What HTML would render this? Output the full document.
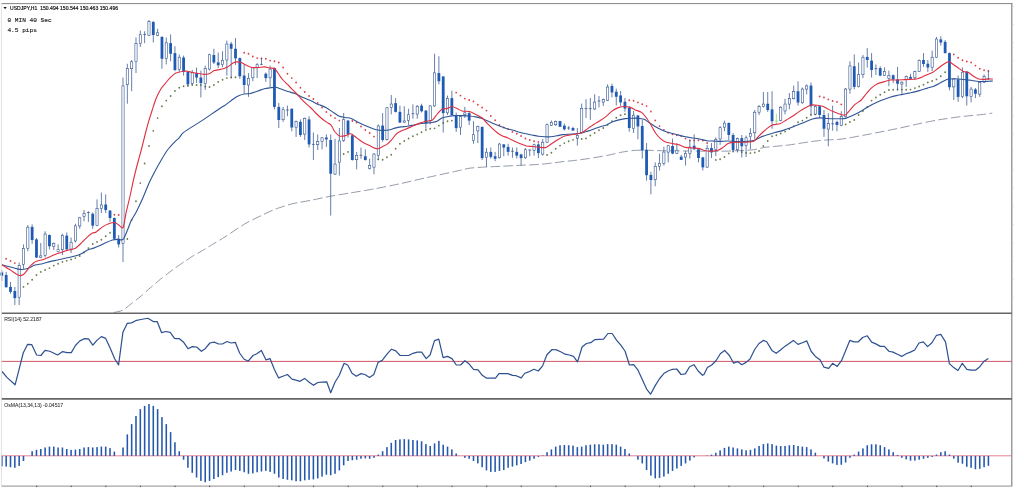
<!DOCTYPE html><html><head><meta charset="utf-8"><title>USDJPY,H1</title>
<style>html,body{margin:0;padding:0;background:#fff;}body{width:1024px;height:497px;overflow:hidden;font-family:"Liberation Sans",sans-serif;}svg{display:block}.t{font-family:"Liberation Sans",sans-serif;font-size:5.1px;fill:#151515;stroke:#151515;stroke-width:.18px}.s{font-family:"Liberation Sans",sans-serif;font-size:5.1px;fill:#2a2a2a;stroke:#2a2a2a;stroke-width:.06px}.m{font-family:"Liberation Mono",monospace;font-size:6.15px;fill:#1a1a1a;stroke:#1a1a1a;stroke-width:.14px}</style></head><body>
<svg width="1024" height="497" viewBox="0 0 1024 497">
<rect width="1024" height="497" fill="#fff"/>
<path d="M113.75 312.50C114.84 312.23 120.31 311.39 122.50 310.30C124.69 309.21 129.06 305.43 131.25 303.75C133.44 302.07 137.66 298.86 140.00 296.90C142.34 294.94 147.66 290.14 150.00 288.10C152.34 286.06 156.56 282.39 158.75 280.60C160.94 278.81 165.47 275.31 167.50 273.75C169.53 272.19 172.81 269.66 175.00 268.10C177.19 266.54 182.81 262.73 185.00 261.25C187.19 259.77 190.62 257.41 192.50 256.25C194.38 255.09 197.50 253.48 200.00 252.00C202.50 250.52 209.38 246.29 212.50 244.40C215.62 242.51 220.94 239.48 225.00 236.90C229.06 234.32 240.31 226.49 245.00 223.75C249.69 221.01 258.75 216.81 262.50 215.00C266.25 213.19 271.25 210.66 275.00 209.25C278.75 207.84 287.81 204.91 292.50 203.75C297.19 202.59 307.78 200.94 312.50 200.00C317.22 199.06 325.56 197.12 330.25 196.25C334.94 195.38 344.41 193.94 350.00 193.00C355.59 192.06 368.75 189.91 375.00 188.75C381.25 187.59 393.75 185.09 400.00 183.75C406.25 182.41 418.00 179.56 425.00 178.00C432.00 176.44 451.12 172.32 456.00 171.25C460.88 170.18 462.22 169.79 464.00 169.40C465.78 169.01 468.06 168.37 470.25 168.10C472.44 167.83 477.59 167.48 481.50 167.25C485.41 167.02 496.50 166.50 501.50 166.25C506.50 166.00 516.81 165.48 521.50 165.25C526.19 165.02 535.25 164.67 539.00 164.40C542.75 164.13 548.38 163.46 551.50 163.10C554.62 162.74 560.88 161.86 564.00 161.50C567.12 161.14 573.38 160.62 576.50 160.25C579.62 159.88 585.06 159.12 589.00 158.50C592.94 157.88 604.06 156.01 608.00 155.25C611.94 154.49 617.38 152.99 620.50 152.40C623.62 151.81 629.94 150.78 633.00 150.50C636.06 150.22 641.62 150.17 645.00 150.20C648.38 150.22 654.38 150.60 660.00 150.70C665.62 150.80 682.50 150.93 690.00 151.00C697.50 151.07 712.34 151.38 720.00 151.25C727.66 151.12 745.78 150.47 751.25 150.00C756.72 149.53 760.62 147.97 763.75 147.50C766.88 147.03 773.12 146.56 776.25 146.25C779.38 145.94 785.62 145.39 788.75 145.00C791.88 144.61 798.12 143.57 801.25 143.10C804.38 142.63 810.62 141.64 813.75 141.25C816.88 140.86 823.12 140.23 826.25 140.00C829.38 139.77 836.03 139.64 838.75 139.40C841.47 139.16 844.09 138.78 848.00 138.10C851.91 137.42 863.50 135.26 870.00 134.00C876.50 132.74 893.75 129.31 900.00 128.00C906.25 126.69 915.31 124.50 920.00 123.50C924.69 122.50 934.25 120.59 937.50 120.00C940.75 119.41 943.38 119.14 946.00 118.75C948.62 118.36 955.38 117.29 958.50 116.90C961.62 116.51 967.88 115.91 971.00 115.60C974.12 115.29 980.84 114.71 983.50 114.40C986.16 114.09 991.16 113.26 992.25 113.10" fill="none" stroke="#878e9e" stroke-width="0.9" stroke-dasharray="9.4 3.5"/>
<g fill="#667a46">
<circle cx="19.16" cy="282.75" r="0.88"/>
<circle cx="23.48" cy="286.90" r="0.88"/>
<circle cx="27.81" cy="283.75" r="0.88"/>
<circle cx="32.14" cy="279.75" r="0.88"/>
<circle cx="36.47" cy="275.00" r="0.88"/>
<circle cx="40.79" cy="271.90" r="0.88"/>
<circle cx="45.12" cy="270.00" r="0.88"/>
<circle cx="49.45" cy="268.10" r="0.88"/>
<circle cx="53.77" cy="265.60" r="0.88"/>
<circle cx="58.10" cy="263.75" r="0.88"/>
<circle cx="62.43" cy="261.90" r="0.88"/>
<circle cx="66.75" cy="260.80" r="0.88"/>
<circle cx="71.08" cy="259.50" r="0.88"/>
<circle cx="75.41" cy="258.10" r="0.88"/>
<circle cx="79.74" cy="256.00" r="0.88"/>
<circle cx="84.06" cy="252.50" r="0.88"/>
<circle cx="88.39" cy="248.10" r="0.88"/>
<circle cx="92.72" cy="244.00" r="0.88"/>
<circle cx="97.04" cy="241.90" r="0.88"/>
<circle cx="101.37" cy="239.75" r="0.88"/>
<circle cx="105.70" cy="236.25" r="0.88"/>
<circle cx="110.02" cy="232.75" r="0.88"/>
<circle cx="123.01" cy="235.00" r="0.88"/>
<circle cx="127.33" cy="239.00" r="0.88"/>
<circle cx="131.66" cy="220.00" r="0.88"/>
<circle cx="135.99" cy="201.25" r="0.88"/>
<circle cx="140.31" cy="183.10" r="0.88"/>
<circle cx="144.64" cy="163.50" r="0.88"/>
<circle cx="148.97" cy="146.00" r="0.88"/>
<circle cx="153.29" cy="130.80" r="0.88"/>
<circle cx="157.62" cy="118.10" r="0.88"/>
<circle cx="161.95" cy="106.25" r="0.88"/>
<circle cx="166.28" cy="100.60" r="0.88"/>
<circle cx="170.60" cy="96.00" r="0.88"/>
<circle cx="174.93" cy="91.00" r="0.88"/>
<circle cx="179.26" cy="87.75" r="0.88"/>
<circle cx="183.58" cy="86.25" r="0.88"/>
<circle cx="187.91" cy="85.60" r="0.88"/>
<circle cx="192.24" cy="85.00" r="0.88"/>
<circle cx="196.56" cy="85.00" r="0.88"/>
<circle cx="200.89" cy="85.00" r="0.88"/>
<circle cx="205.22" cy="86.50" r="0.88"/>
<circle cx="209.55" cy="87.00" r="0.88"/>
<circle cx="213.87" cy="85.00" r="0.88"/>
<circle cx="218.20" cy="81.90" r="0.88"/>
<circle cx="222.53" cy="79.75" r="0.88"/>
<circle cx="226.85" cy="78.10" r="0.88"/>
<circle cx="231.18" cy="77.50" r="0.88"/>
<circle cx="235.51" cy="77.25" r="0.88"/>
<circle cx="343.68" cy="154.00" r="0.88"/>
<circle cx="348.01" cy="151.90" r="0.88"/>
<circle cx="378.30" cy="159.40" r="0.88"/>
<circle cx="382.63" cy="159.75" r="0.88"/>
<circle cx="386.95" cy="157.25" r="0.88"/>
<circle cx="391.28" cy="154.75" r="0.88"/>
<circle cx="395.61" cy="148.75" r="0.88"/>
<circle cx="399.93" cy="143.75" r="0.88"/>
<circle cx="404.26" cy="141.00" r="0.88"/>
<circle cx="408.59" cy="138.50" r="0.88"/>
<circle cx="412.92" cy="136.25" r="0.88"/>
<circle cx="417.24" cy="134.40" r="0.88"/>
<circle cx="421.57" cy="132.25" r="0.88"/>
<circle cx="425.90" cy="130.00" r="0.88"/>
<circle cx="430.22" cy="128.75" r="0.88"/>
<circle cx="434.55" cy="128.30" r="0.88"/>
<circle cx="438.88" cy="125.60" r="0.88"/>
<circle cx="443.20" cy="123.00" r="0.88"/>
<circle cx="447.53" cy="121.25" r="0.88"/>
<circle cx="451.86" cy="120.60" r="0.88"/>
<circle cx="547.05" cy="155.00" r="0.88"/>
<circle cx="551.38" cy="152.75" r="0.88"/>
<circle cx="555.71" cy="148.75" r="0.88"/>
<circle cx="560.03" cy="145.60" r="0.88"/>
<circle cx="564.36" cy="143.10" r="0.88"/>
<circle cx="568.69" cy="141.25" r="0.88"/>
<circle cx="573.01" cy="139.80" r="0.88"/>
<circle cx="577.34" cy="138.00" r="0.88"/>
<circle cx="581.67" cy="139.00" r="0.88"/>
<circle cx="586.00" cy="138.40" r="0.88"/>
<circle cx="590.32" cy="135.50" r="0.88"/>
<circle cx="594.65" cy="133.00" r="0.88"/>
<circle cx="598.98" cy="130.25" r="0.88"/>
<circle cx="603.30" cy="128.00" r="0.88"/>
<circle cx="607.63" cy="124.90" r="0.88"/>
<circle cx="611.96" cy="121.10" r="0.88"/>
<circle cx="616.28" cy="117.75" r="0.88"/>
<circle cx="620.61" cy="115.25" r="0.88"/>
<circle cx="624.94" cy="114.25" r="0.88"/>
<circle cx="715.81" cy="159.90" r="0.88"/>
<circle cx="720.13" cy="159.25" r="0.88"/>
<circle cx="724.46" cy="157.00" r="0.88"/>
<circle cx="728.79" cy="153.40" r="0.88"/>
<circle cx="733.11" cy="151.10" r="0.88"/>
<circle cx="741.77" cy="152.00" r="0.88"/>
<circle cx="746.09" cy="152.80" r="0.88"/>
<circle cx="750.42" cy="153.10" r="0.88"/>
<circle cx="754.75" cy="152.50" r="0.88"/>
<circle cx="759.08" cy="151.00" r="0.88"/>
<circle cx="763.40" cy="146.00" r="0.88"/>
<circle cx="767.73" cy="141.00" r="0.88"/>
<circle cx="772.06" cy="136.25" r="0.88"/>
<circle cx="776.38" cy="135.25" r="0.88"/>
<circle cx="780.71" cy="133.50" r="0.88"/>
<circle cx="785.04" cy="131.50" r="0.88"/>
<circle cx="789.36" cy="129.00" r="0.88"/>
<circle cx="793.69" cy="126.25" r="0.88"/>
<circle cx="798.02" cy="122.25" r="0.88"/>
<circle cx="802.35" cy="120.60" r="0.88"/>
<circle cx="806.67" cy="117.75" r="0.88"/>
<circle cx="811.00" cy="115.00" r="0.88"/>
<circle cx="815.33" cy="114.40" r="0.88"/>
<circle cx="845.62" cy="124.40" r="0.88"/>
<circle cx="849.94" cy="122.00" r="0.88"/>
<circle cx="854.27" cy="120.00" r="0.88"/>
<circle cx="858.60" cy="115.00" r="0.88"/>
<circle cx="862.92" cy="111.00" r="0.88"/>
<circle cx="867.25" cy="106.90" r="0.88"/>
<circle cx="871.58" cy="100.60" r="0.88"/>
<circle cx="875.90" cy="97.50" r="0.88"/>
<circle cx="880.23" cy="94.75" r="0.88"/>
<circle cx="884.56" cy="92.25" r="0.88"/>
<circle cx="888.88" cy="90.00" r="0.88"/>
<circle cx="893.21" cy="89.75" r="0.88"/>
<circle cx="897.54" cy="89.40" r="0.88"/>
<circle cx="901.87" cy="89.60" r="0.88"/>
<circle cx="906.19" cy="89.75" r="0.88"/>
<circle cx="910.52" cy="89.60" r="0.88"/>
<circle cx="914.85" cy="88.10" r="0.88"/>
<circle cx="919.17" cy="86.50" r="0.88"/>
<circle cx="923.50" cy="84.75" r="0.88"/>
<circle cx="927.83" cy="82.50" r="0.88"/>
<circle cx="932.15" cy="81.00" r="0.88"/>
<circle cx="936.48" cy="79.40" r="0.88"/>
<circle cx="940.81" cy="76.25" r="0.88"/>
<circle cx="945.14" cy="72.25" r="0.88"/>
</g><g fill="#dc3c44">
<circle cx="6.18" cy="258.75" r="0.88"/>
<circle cx="10.50" cy="261.00" r="0.88"/>
<circle cx="14.83" cy="263.10" r="0.88"/>
<circle cx="114.35" cy="214.75" r="0.88"/>
<circle cx="118.68" cy="215.00" r="0.88"/>
<circle cx="244.16" cy="52.75" r="0.88"/>
<circle cx="248.49" cy="53.75" r="0.88"/>
<circle cx="252.82" cy="56.50" r="0.88"/>
<circle cx="257.14" cy="58.10" r="0.88"/>
<circle cx="261.47" cy="58.50" r="0.88"/>
<circle cx="265.80" cy="58.75" r="0.88"/>
<circle cx="270.12" cy="60.60" r="0.88"/>
<circle cx="274.45" cy="61.25" r="0.88"/>
<circle cx="278.78" cy="62.50" r="0.88"/>
<circle cx="283.11" cy="67.50" r="0.88"/>
<circle cx="287.43" cy="73.75" r="0.88"/>
<circle cx="291.76" cy="78.10" r="0.88"/>
<circle cx="296.09" cy="82.50" r="0.88"/>
<circle cx="300.41" cy="87.75" r="0.88"/>
<circle cx="304.74" cy="92.00" r="0.88"/>
<circle cx="309.07" cy="96.00" r="0.88"/>
<circle cx="313.39" cy="99.00" r="0.88"/>
<circle cx="317.72" cy="103.00" r="0.88"/>
<circle cx="322.05" cy="107.50" r="0.88"/>
<circle cx="326.38" cy="112.00" r="0.88"/>
<circle cx="330.70" cy="115.50" r="0.88"/>
<circle cx="335.03" cy="118.10" r="0.88"/>
<circle cx="339.36" cy="120.60" r="0.88"/>
<circle cx="352.34" cy="121.00" r="0.88"/>
<circle cx="356.66" cy="122.50" r="0.88"/>
<circle cx="360.99" cy="126.50" r="0.88"/>
<circle cx="365.32" cy="130.00" r="0.88"/>
<circle cx="369.65" cy="133.00" r="0.88"/>
<circle cx="373.97" cy="136.60" r="0.88"/>
<circle cx="456.19" cy="92.60" r="0.88"/>
<circle cx="460.51" cy="95.60" r="0.88"/>
<circle cx="464.84" cy="98.60" r="0.88"/>
<circle cx="469.17" cy="100.00" r="0.88"/>
<circle cx="473.49" cy="101.40" r="0.88"/>
<circle cx="477.82" cy="104.75" r="0.88"/>
<circle cx="482.15" cy="107.50" r="0.88"/>
<circle cx="486.47" cy="110.60" r="0.88"/>
<circle cx="490.80" cy="116.00" r="0.88"/>
<circle cx="495.13" cy="120.25" r="0.88"/>
<circle cx="499.46" cy="125.00" r="0.88"/>
<circle cx="503.78" cy="127.50" r="0.88"/>
<circle cx="508.11" cy="129.20" r="0.88"/>
<circle cx="512.44" cy="131.90" r="0.88"/>
<circle cx="516.76" cy="133.75" r="0.88"/>
<circle cx="521.09" cy="136.00" r="0.88"/>
<circle cx="525.42" cy="138.50" r="0.88"/>
<circle cx="529.74" cy="140.00" r="0.88"/>
<circle cx="534.07" cy="141.25" r="0.88"/>
<circle cx="538.40" cy="141.90" r="0.88"/>
<circle cx="629.26" cy="100.25" r="0.88"/>
<circle cx="633.59" cy="100.75" r="0.88"/>
<circle cx="637.92" cy="102.40" r="0.88"/>
<circle cx="642.25" cy="104.25" r="0.88"/>
<circle cx="646.57" cy="106.10" r="0.88"/>
<circle cx="650.90" cy="111.50" r="0.88"/>
<circle cx="655.23" cy="120.40" r="0.88"/>
<circle cx="659.55" cy="126.10" r="0.88"/>
<circle cx="663.88" cy="129.90" r="0.88"/>
<circle cx="668.21" cy="132.75" r="0.88"/>
<circle cx="672.53" cy="134.25" r="0.88"/>
<circle cx="676.86" cy="135.25" r="0.88"/>
<circle cx="681.19" cy="136.10" r="0.88"/>
<circle cx="685.52" cy="138.60" r="0.88"/>
<circle cx="689.84" cy="140.50" r="0.88"/>
<circle cx="694.17" cy="140.50" r="0.88"/>
<circle cx="698.50" cy="140.25" r="0.88"/>
<circle cx="702.82" cy="140.50" r="0.88"/>
<circle cx="707.15" cy="143.00" r="0.88"/>
<circle cx="819.65" cy="96.50" r="0.88"/>
<circle cx="823.98" cy="97.50" r="0.88"/>
<circle cx="828.31" cy="99.40" r="0.88"/>
<circle cx="832.63" cy="101.00" r="0.88"/>
<circle cx="836.96" cy="101.90" r="0.88"/>
<circle cx="841.29" cy="104.40" r="0.88"/>
<circle cx="953.79" cy="54.40" r="0.88"/>
<circle cx="958.12" cy="57.75" r="0.88"/>
<circle cx="962.44" cy="60.25" r="0.88"/>
<circle cx="966.77" cy="61.50" r="0.88"/>
<circle cx="971.10" cy="62.50" r="0.88"/>
<circle cx="975.43" cy="65.60" r="0.88"/>
<circle cx="979.75" cy="68.75" r="0.88"/>
<circle cx="984.08" cy="70.25" r="0.88"/>
<circle cx="988.41" cy="71.00" r="0.88"/>
</g>
<g stroke="#34548f" stroke-width="0.75">
<path d="M1.85 270.60V281.00" fill="none"/>
<rect x="0.45" y="272.50" width="2.8" height="3.10" fill="#1f5bb5" stroke="none"/>
<path d="M6.18 271.90V287.50" fill="none"/>
<rect x="4.78" y="275.00" width="2.8" height="12.25" fill="#1f5bb5" stroke="none"/>
<path d="M10.50 281.90V293.75" fill="none"/>
<rect x="9.10" y="286.90" width="2.8" height="5.00" fill="#1f5bb5" stroke="none"/>
<path d="M14.83 286.90V305.00" fill="none"/>
<rect x="13.43" y="291.00" width="2.8" height="7.10" fill="#1f5bb5" stroke="none"/>
<path d="M19.16 262.50V305.00" fill="none"/>
<rect x="18.06" y="265.30" width="2.20" height="31.90" fill="#fff" stroke-width="0.6"/>
<path d="M23.48 244.40V268.75" fill="none"/>
<rect x="22.39" y="248.40" width="2.20" height="16.05" fill="#fff" stroke-width="0.6"/>
<path d="M27.81 225.00V251.25" fill="none"/>
<rect x="26.71" y="227.20" width="2.20" height="21.25" fill="#fff" stroke-width="0.6"/>
<path d="M32.14 224.40V243.75" fill="none"/>
<rect x="30.74" y="226.90" width="2.8" height="13.10" fill="#1f5bb5" stroke="none"/>
<path d="M36.47 238.00V258.00" fill="none"/>
<rect x="35.07" y="239.40" width="2.8" height="18.10" fill="#1f5bb5" stroke="none"/>
<path d="M40.79 243.00V258.10" fill="none"/>
<rect x="39.69" y="255.90" width="2.20" height="1.55" fill="#fff" stroke-width="0.6"/>
<path d="M45.12 231.25V257.50" fill="none"/>
<rect x="44.02" y="234.05" width="2.20" height="21.25" fill="#fff" stroke-width="0.6"/>
<path d="M49.45 234.40V249.40" fill="none"/>
<rect x="48.05" y="235.00" width="2.8" height="11.25" fill="#1f5bb5" stroke="none"/>
<path d="M53.77 242.50V250.00" fill="none"/>
<rect x="52.67" y="243.30" width="2.20" height="3.30" fill="#fff" stroke-width="0.6"/>
<path d="M58.10 244.40V252.50" fill="none"/>
<rect x="57.00" y="249.70" width="2.20" height="1.90" fill="#fff" stroke-width="0.6"/>
<path d="M62.43 233.75V255.00" fill="none"/>
<rect x="61.33" y="235.30" width="2.20" height="14.40" fill="#fff" stroke-width="0.6"/>
<path d="M66.75 232.50V250.00" fill="none"/>
<rect x="65.35" y="235.60" width="2.8" height="13.80" fill="#1f5bb5" stroke="none"/>
<path d="M71.08 237.50V253.00" fill="none"/>
<rect x="69.98" y="242.20" width="2.20" height="6.90" fill="#fff" stroke-width="0.6"/>
<path d="M75.41 223.75V242.50" fill="none"/>
<rect x="74.31" y="225.90" width="2.20" height="15.05" fill="#fff" stroke-width="0.6"/>
<path d="M79.74 216.90V228.75" fill="none"/>
<rect x="78.64" y="217.80" width="2.20" height="8.15" fill="#fff" stroke-width="0.6"/>
<path d="M84.06 210.00V221.25" fill="none"/>
<rect x="82.96" y="213.30" width="2.20" height="3.30" fill="#fff" stroke-width="0.6"/>
<path d="M88.39 211.25V221.90" fill="none"/>
<path d="M86.99 212.50H89.79" fill="none"/>
<path d="M92.72 212.50V228.75" fill="none"/>
<rect x="91.32" y="213.75" width="2.8" height="11.85" fill="#1f5bb5" stroke="none"/>
<path d="M97.04 199.40V226.25" fill="none"/>
<rect x="95.94" y="208.30" width="2.20" height="17.00" fill="#fff" stroke-width="0.6"/>
<path d="M101.37 192.50V213.00" fill="none"/>
<rect x="100.27" y="204.90" width="2.20" height="3.55" fill="#fff" stroke-width="0.6"/>
<path d="M105.70 194.40V213.00" fill="none"/>
<rect x="104.30" y="204.50" width="2.8" height="5.50" fill="#1f5bb5" stroke="none"/>
<path d="M110.02 210.00V221.90" fill="none"/>
<rect x="108.62" y="210.60" width="2.8" height="7.40" fill="#1f5bb5" stroke="none"/>
<path d="M114.35 217.50V239.00" fill="none"/>
<rect x="112.95" y="218.00" width="2.8" height="20.75" fill="#1f5bb5" stroke="none"/>
<path d="M118.68 235.00V247.50" fill="none"/>
<rect x="117.28" y="238.75" width="2.8" height="5.65" fill="#1f5bb5" stroke="none"/>
<path d="M123.01 77.50V262.00" fill="none"/>
<rect x="121.91" y="85.90" width="2.20" height="157.55" fill="#fff" stroke-width="0.6"/>
<path d="M127.33 63.75V103.75" fill="none"/>
<rect x="126.23" y="68.40" width="2.20" height="16.30" fill="#fff" stroke-width="0.6"/>
<path d="M131.66 60.00V91.25" fill="none"/>
<rect x="130.56" y="61.80" width="2.20" height="6.90" fill="#fff" stroke-width="0.6"/>
<path d="M135.99 37.50V73.00" fill="none"/>
<rect x="134.89" y="43.40" width="2.20" height="18.20" fill="#fff" stroke-width="0.6"/>
<path d="M140.31 30.60V46.90" fill="none"/>
<rect x="139.21" y="34.70" width="2.20" height="8.75" fill="#fff" stroke-width="0.6"/>
<path d="M144.64 31.25V43.10" fill="none"/>
<path d="M143.24 34.40H146.04" fill="none"/>
<path d="M148.97 20.00V36.00" fill="none"/>
<rect x="147.87" y="21.55" width="2.20" height="13.75" fill="#fff" stroke-width="0.6"/>
<path d="M153.29 21.25V42.50" fill="none"/>
<rect x="151.89" y="21.90" width="2.8" height="13.10" fill="#1f5bb5" stroke="none"/>
<path d="M157.62 28.75V36.25" fill="none"/>
<rect x="156.52" y="32.80" width="2.20" height="2.50" fill="#fff" stroke-width="0.6"/>
<path d="M161.95 36.25V68.75" fill="none"/>
<rect x="160.55" y="36.90" width="2.8" height="21.85" fill="#1f5bb5" stroke="none"/>
<path d="M166.28 37.50V64.40" fill="none"/>
<rect x="165.18" y="42.80" width="2.20" height="15.65" fill="#fff" stroke-width="0.6"/>
<path d="M170.60 34.40V61.25" fill="none"/>
<rect x="169.20" y="43.10" width="2.8" height="10.65" fill="#1f5bb5" stroke="none"/>
<path d="M174.93 46.25V71.25" fill="none"/>
<rect x="173.53" y="53.10" width="2.8" height="16.90" fill="#1f5bb5" stroke="none"/>
<path d="M179.26 54.40V72.50" fill="none"/>
<rect x="178.16" y="57.20" width="2.20" height="12.20" fill="#fff" stroke-width="0.6"/>
<path d="M183.58 55.60V75.60" fill="none"/>
<rect x="182.18" y="57.50" width="2.8" height="14.00" fill="#1f5bb5" stroke="none"/>
<path d="M187.91 71.25V86.90" fill="none"/>
<rect x="186.51" y="71.90" width="2.8" height="12.50" fill="#1f5bb5" stroke="none"/>
<path d="M192.24 70.00V85.00" fill="none"/>
<rect x="191.14" y="72.80" width="2.20" height="10.65" fill="#fff" stroke-width="0.6"/>
<path d="M196.56 67.50V83.00" fill="none"/>
<rect x="195.16" y="73.10" width="2.8" height="4.40" fill="#1f5bb5" stroke="none"/>
<path d="M200.89 70.60V97.50" fill="none"/>
<rect x="199.49" y="77.50" width="2.8" height="5.60" fill="#1f5bb5" stroke="none"/>
<path d="M205.22 65.60V90.00" fill="none"/>
<rect x="204.12" y="68.40" width="2.20" height="15.05" fill="#fff" stroke-width="0.6"/>
<path d="M209.55 53.75V70.60" fill="none"/>
<rect x="208.45" y="54.70" width="2.20" height="14.40" fill="#fff" stroke-width="0.6"/>
<path d="M213.87 48.75V64.00" fill="none"/>
<rect x="212.47" y="55.00" width="2.8" height="7.50" fill="#1f5bb5" stroke="none"/>
<path d="M218.20 52.50V68.00" fill="none"/>
<rect x="216.80" y="62.40" width="2.8" height="2.90" fill="#1f5bb5" stroke="none"/>
<path d="M222.53 51.25V67.20" fill="none"/>
<rect x="221.43" y="60.30" width="2.20" height="4.30" fill="#fff" stroke-width="0.6"/>
<path d="M226.85 40.60V75.60" fill="none"/>
<rect x="225.75" y="44.05" width="2.20" height="15.95" fill="#fff" stroke-width="0.6"/>
<path d="M231.18 41.90V78.10" fill="none"/>
<rect x="229.78" y="43.75" width="2.8" height="5.00" fill="#1f5bb5" stroke="none"/>
<path d="M235.51 38.10V65.00" fill="none"/>
<rect x="234.11" y="48.75" width="2.8" height="9.65" fill="#1f5bb5" stroke="none"/>
<path d="M239.83 57.50V78.75" fill="none"/>
<rect x="238.43" y="58.10" width="2.8" height="18.15" fill="#1f5bb5" stroke="none"/>
<path d="M244.16 64.40V93.75" fill="none"/>
<rect x="242.76" y="75.60" width="2.8" height="9.40" fill="#1f5bb5" stroke="none"/>
<path d="M248.49 73.10V96.90" fill="none"/>
<rect x="247.39" y="78.40" width="2.20" height="6.60" fill="#fff" stroke-width="0.6"/>
<path d="M252.82 66.90V81.25" fill="none"/>
<rect x="251.72" y="67.80" width="2.20" height="10.00" fill="#fff" stroke-width="0.6"/>
<path d="M257.14 63.10V78.10" fill="none"/>
<rect x="256.04" y="64.70" width="2.20" height="2.50" fill="#fff" stroke-width="0.6"/>
<path d="M261.47 57.75V64.75" fill="none"/>
<path d="M260.07 64.40H262.87" fill="none"/>
<path d="M265.80 72.50V81.90" fill="none"/>
<rect x="264.40" y="73.75" width="2.8" height="4.35" fill="#1f5bb5" stroke="none"/>
<path d="M270.12 65.60V87.50" fill="none"/>
<rect x="269.02" y="69.05" width="2.20" height="8.75" fill="#fff" stroke-width="0.6"/>
<path d="M274.45 67.50V109.40" fill="none"/>
<rect x="273.05" y="68.10" width="2.8" height="38.80" fill="#1f5bb5" stroke="none"/>
<path d="M278.78 103.00V128.00" fill="none"/>
<rect x="277.38" y="106.90" width="2.8" height="13.10" fill="#1f5bb5" stroke="none"/>
<path d="M283.11 106.90V121.90" fill="none"/>
<rect x="282.01" y="109.70" width="2.20" height="10.00" fill="#fff" stroke-width="0.6"/>
<path d="M287.43 105.60V116.25" fill="none"/>
<path d="M286.03 110.00H288.83" fill="none"/>
<path d="M291.76 108.50V131.25" fill="none"/>
<rect x="290.36" y="108.75" width="2.8" height="18.75" fill="#1f5bb5" stroke="none"/>
<path d="M296.09 120.60V136.90" fill="none"/>
<rect x="294.99" y="121.55" width="2.20" height="5.65" fill="#fff" stroke-width="0.6"/>
<path d="M300.41 119.40V136.90" fill="none"/>
<rect x="299.01" y="121.90" width="2.8" height="13.10" fill="#1f5bb5" stroke="none"/>
<path d="M304.74 117.50V140.00" fill="none"/>
<rect x="303.64" y="118.30" width="2.20" height="15.80" fill="#fff" stroke-width="0.6"/>
<path d="M309.07 116.25V147.50" fill="none"/>
<rect x="307.67" y="119.40" width="2.8" height="25.00" fill="#1f5bb5" stroke="none"/>
<path d="M313.39 132.50V160.00" fill="none"/>
<path d="M311.99 144.40H314.79" fill="none"/>
<path d="M317.72 134.40V150.00" fill="none"/>
<rect x="316.62" y="141.55" width="2.20" height="3.15" fill="#fff" stroke-width="0.6"/>
<path d="M322.05 137.25V149.40" fill="none"/>
<rect x="320.95" y="137.80" width="2.20" height="3.80" fill="#fff" stroke-width="0.6"/>
<path d="M326.38 134.40V146.90" fill="none"/>
<rect x="324.98" y="137.50" width="2.8" height="1.90" fill="#1f5bb5" stroke="none"/>
<path d="M330.70 134.40V215.60" fill="none"/>
<rect x="329.30" y="140.00" width="2.8" height="33.75" fill="#1f5bb5" stroke="none"/>
<path d="M335.03 138.75V175.00" fill="none"/>
<rect x="333.93" y="164.05" width="2.20" height="10.05" fill="#fff" stroke-width="0.6"/>
<path d="M339.36 128.00V175.60" fill="none"/>
<rect x="338.26" y="140.90" width="2.20" height="21.30" fill="#fff" stroke-width="0.6"/>
<path d="M343.68 113.00V141.90" fill="none"/>
<rect x="342.58" y="119.70" width="2.20" height="20.60" fill="#fff" stroke-width="0.6"/>
<path d="M348.01 120.00V137.50" fill="none"/>
<rect x="346.61" y="120.60" width="2.8" height="13.40" fill="#1f5bb5" stroke="none"/>
<path d="M352.34 133.75V160.60" fill="none"/>
<rect x="350.94" y="135.30" width="2.8" height="24.70" fill="#1f5bb5" stroke="none"/>
<path d="M356.66 151.90V169.40" fill="none"/>
<rect x="355.56" y="155.30" width="2.20" height="4.40" fill="#fff" stroke-width="0.6"/>
<path d="M360.99 147.50V158.75" fill="none"/>
<path d="M359.59 155.25H362.39" fill="none"/>
<path d="M365.32 149.40V160.60" fill="none"/>
<rect x="363.92" y="156.25" width="2.8" height="3.75" fill="#1f5bb5" stroke="none"/>
<path d="M369.65 158.75V169.40" fill="none"/>
<rect x="368.55" y="165.30" width="2.20" height="3.15" fill="#fff" stroke-width="0.6"/>
<path d="M373.97 153.10V174.40" fill="none"/>
<rect x="372.87" y="154.05" width="2.20" height="13.15" fill="#fff" stroke-width="0.6"/>
<path d="M378.30 124.40V160.00" fill="none"/>
<rect x="377.20" y="125.90" width="2.20" height="29.40" fill="#fff" stroke-width="0.6"/>
<path d="M382.63 113.10V141.90" fill="none"/>
<rect x="381.23" y="125.60" width="2.8" height="14.40" fill="#1f5bb5" stroke="none"/>
<path d="M386.95 106.90V140.60" fill="none"/>
<rect x="385.85" y="107.80" width="2.20" height="31.90" fill="#fff" stroke-width="0.6"/>
<path d="M391.28 95.00V114.40" fill="none"/>
<rect x="390.18" y="104.05" width="2.20" height="3.40" fill="#fff" stroke-width="0.6"/>
<path d="M395.61 98.10V112.50" fill="none"/>
<rect x="394.21" y="103.10" width="2.8" height="8.80" fill="#1f5bb5" stroke="none"/>
<path d="M399.93 105.60V123.10" fill="none"/>
<rect x="398.53" y="111.90" width="2.8" height="10.60" fill="#1f5bb5" stroke="none"/>
<path d="M404.26 106.25V122.80" fill="none"/>
<rect x="403.16" y="120.90" width="2.20" height="1.30" fill="#fff" stroke-width="0.6"/>
<path d="M408.59 108.75V125.00" fill="none"/>
<rect x="407.49" y="114.70" width="2.20" height="5.60" fill="#fff" stroke-width="0.6"/>
<path d="M412.92 104.40V118.75" fill="none"/>
<path d="M411.52 113.75H414.31" fill="none"/>
<path d="M417.24 105.00V118.75" fill="none"/>
<rect x="416.14" y="106.55" width="2.20" height="7.55" fill="#fff" stroke-width="0.6"/>
<path d="M421.57 103.75V112.50" fill="none"/>
<rect x="420.17" y="105.60" width="2.8" height="5.65" fill="#1f5bb5" stroke="none"/>
<path d="M425.90 110.00V128.75" fill="none"/>
<rect x="424.50" y="110.60" width="2.8" height="12.50" fill="#1f5bb5" stroke="none"/>
<path d="M430.22 105.40V124.40" fill="none"/>
<rect x="429.12" y="105.90" width="2.20" height="15.05" fill="#fff" stroke-width="0.6"/>
<path d="M434.55 53.75V106.90" fill="none"/>
<rect x="433.45" y="72.80" width="2.20" height="33.15" fill="#fff" stroke-width="0.6"/>
<path d="M438.88 56.25V84.40" fill="none"/>
<rect x="437.48" y="73.10" width="2.8" height="8.15" fill="#1f5bb5" stroke="none"/>
<path d="M443.20 76.00V132.50" fill="none"/>
<rect x="441.80" y="76.50" width="2.8" height="36.60" fill="#1f5bb5" stroke="none"/>
<path d="M447.53 95.60V115.00" fill="none"/>
<rect x="446.43" y="98.40" width="2.20" height="14.40" fill="#fff" stroke-width="0.6"/>
<path d="M451.86 90.60V115.60" fill="none"/>
<rect x="450.46" y="98.10" width="2.8" height="16.90" fill="#1f5bb5" stroke="none"/>
<path d="M456.19 112.50V131.90" fill="none"/>
<rect x="454.79" y="115.60" width="2.8" height="12.50" fill="#1f5bb5" stroke="none"/>
<path d="M460.51 115.60V135.00" fill="none"/>
<rect x="459.41" y="116.55" width="2.20" height="10.65" fill="#fff" stroke-width="0.6"/>
<path d="M464.84 106.90V118.00" fill="none"/>
<rect x="463.74" y="112.80" width="2.20" height="1.90" fill="#fff" stroke-width="0.6"/>
<path d="M469.17 111.90V125.00" fill="none"/>
<rect x="467.77" y="113.10" width="2.8" height="7.50" fill="#1f5bb5" stroke="none"/>
<path d="M473.49 121.25V143.75" fill="none"/>
<rect x="472.39" y="134.70" width="2.20" height="5.60" fill="#fff" stroke-width="0.6"/>
<path d="M477.82 125.60V143.00" fill="none"/>
<rect x="476.72" y="126.55" width="2.20" height="4.40" fill="#fff" stroke-width="0.6"/>
<path d="M482.15 126.50V160.00" fill="none"/>
<rect x="480.75" y="126.90" width="2.8" height="31.20" fill="#1f5bb5" stroke="none"/>
<path d="M486.47 148.00V166.90" fill="none"/>
<rect x="485.37" y="152.20" width="2.20" height="5.00" fill="#fff" stroke-width="0.6"/>
<path d="M490.80 147.50V158.75" fill="none"/>
<rect x="489.40" y="151.90" width="2.8" height="5.00" fill="#1f5bb5" stroke="none"/>
<path d="M495.13 151.90V161.25" fill="none"/>
<rect x="493.73" y="156.25" width="2.8" height="2.50" fill="#1f5bb5" stroke="none"/>
<path d="M499.46 143.00V158.50" fill="none"/>
<rect x="498.36" y="144.05" width="2.20" height="13.75" fill="#fff" stroke-width="0.6"/>
<path d="M503.78 144.00V156.25" fill="none"/>
<rect x="502.38" y="144.40" width="2.8" height="3.10" fill="#1f5bb5" stroke="none"/>
<path d="M508.11 143.75V155.60" fill="none"/>
<rect x="506.71" y="146.90" width="2.8" height="5.00" fill="#1f5bb5" stroke="none"/>
<path d="M512.44 147.50V157.75" fill="none"/>
<path d="M511.04 151.25H513.84" fill="none"/>
<path d="M516.76 147.50V158.50" fill="none"/>
<rect x="515.36" y="151.90" width="2.8" height="3.70" fill="#1f5bb5" stroke="none"/>
<path d="M521.09 153.75V165.60" fill="none"/>
<rect x="519.69" y="154.40" width="2.8" height="3.70" fill="#1f5bb5" stroke="none"/>
<path d="M525.42 148.10V158.75" fill="none"/>
<rect x="524.32" y="149.70" width="2.20" height="8.10" fill="#fff" stroke-width="0.6"/>
<path d="M529.74 149.40V156.25" fill="none"/>
<path d="M528.34 150.00H531.14" fill="none"/>
<path d="M534.07 143.75V155.60" fill="none"/>
<rect x="532.97" y="144.70" width="2.20" height="5.60" fill="#fff" stroke-width="0.6"/>
<path d="M538.40 143.10V158.10" fill="none"/>
<rect x="537.00" y="144.40" width="2.8" height="8.70" fill="#1f5bb5" stroke="none"/>
<path d="M542.73 139.00V155.60" fill="none"/>
<rect x="541.62" y="142.20" width="2.20" height="11.90" fill="#fff" stroke-width="0.6"/>
<path d="M547.05 123.60V143.10" fill="none"/>
<rect x="545.95" y="124.70" width="2.20" height="17.50" fill="#fff" stroke-width="0.6"/>
<path d="M551.38 120.50V126.00" fill="none"/>
<rect x="550.28" y="122.30" width="2.20" height="3.00" fill="#fff" stroke-width="0.6"/>
<path d="M555.71 120.50V126.00" fill="none"/>
<rect x="554.61" y="121.30" width="2.20" height="3.40" fill="#fff" stroke-width="0.6"/>
<path d="M560.03 120.80V127.00" fill="none"/>
<rect x="558.63" y="121.10" width="2.8" height="5.70" fill="#1f5bb5" stroke="none"/>
<path d="M564.36 123.60V130.50" fill="none"/>
<rect x="562.96" y="125.60" width="2.8" height="3.70" fill="#1f5bb5" stroke="none"/>
<path d="M568.69 126.00V130.00" fill="none"/>
<path d="M567.29 128.00H570.09" fill="none"/>
<path d="M573.01 126.75V131.00" fill="none"/>
<rect x="571.61" y="128.00" width="2.8" height="2.50" fill="#1f5bb5" stroke="none"/>
<path d="M577.34 128.00V145.60" fill="none"/>
<rect x="576.24" y="135.30" width="2.20" height="2.80" fill="#fff" stroke-width="0.6"/>
<path d="M581.67 103.60V133.60" fill="none"/>
<rect x="580.57" y="108.30" width="2.20" height="24.40" fill="#fff" stroke-width="0.6"/>
<path d="M586.00 99.25V118.00" fill="none"/>
<path d="M584.60 108.60H587.39" fill="none"/>
<path d="M590.32 98.00V119.90" fill="none"/>
<path d="M588.92 108.60H591.72" fill="none"/>
<path d="M594.65 94.25V109.90" fill="none"/>
<rect x="593.55" y="102.05" width="2.20" height="6.90" fill="#fff" stroke-width="0.6"/>
<path d="M598.98 96.00V107.40" fill="none"/>
<path d="M597.58 101.00H600.38" fill="none"/>
<path d="M603.30 98.60V106.00" fill="none"/>
<rect x="602.20" y="99.55" width="2.20" height="2.55" fill="#fff" stroke-width="0.6"/>
<path d="M607.63 84.25V101.10" fill="none"/>
<rect x="606.53" y="87.05" width="2.20" height="13.15" fill="#fff" stroke-width="0.6"/>
<path d="M611.96 83.60V97.40" fill="none"/>
<rect x="610.56" y="86.00" width="2.8" height="6.40" fill="#1f5bb5" stroke="none"/>
<path d="M616.28 88.60V105.50" fill="none"/>
<rect x="614.88" y="91.75" width="2.8" height="5.00" fill="#1f5bb5" stroke="none"/>
<path d="M620.61 91.00V106.00" fill="none"/>
<rect x="619.21" y="95.50" width="2.8" height="6.90" fill="#1f5bb5" stroke="none"/>
<path d="M624.94 98.00V111.75" fill="none"/>
<rect x="623.54" y="101.75" width="2.8" height="6.85" fill="#1f5bb5" stroke="none"/>
<path d="M629.26 106.00V131.75" fill="none"/>
<rect x="627.87" y="108.00" width="2.8" height="20.00" fill="#1f5bb5" stroke="none"/>
<path d="M633.59 111.00V133.00" fill="none"/>
<rect x="632.49" y="115.20" width="2.20" height="13.10" fill="#fff" stroke-width="0.6"/>
<path d="M637.92 114.90V139.25" fill="none"/>
<rect x="636.52" y="115.50" width="2.8" height="10.90" fill="#1f5bb5" stroke="none"/>
<path d="M642.25 119.90V158.60" fill="none"/>
<rect x="640.85" y="126.00" width="2.8" height="24.50" fill="#1f5bb5" stroke="none"/>
<path d="M646.57 143.00V180.60" fill="none"/>
<rect x="645.17" y="149.90" width="2.8" height="25.30" fill="#1f5bb5" stroke="none"/>
<path d="M650.90 171.80V194.40" fill="none"/>
<rect x="649.50" y="175.00" width="2.8" height="5.00" fill="#1f5bb5" stroke="none"/>
<path d="M655.23 162.40V186.25" fill="none"/>
<rect x="654.13" y="166.40" width="2.20" height="13.30" fill="#fff" stroke-width="0.6"/>
<path d="M659.55 153.60V170.50" fill="none"/>
<rect x="658.45" y="163.30" width="2.20" height="3.15" fill="#fff" stroke-width="0.6"/>
<path d="M663.88 146.75V165.50" fill="none"/>
<rect x="662.78" y="152.05" width="2.20" height="11.25" fill="#fff" stroke-width="0.6"/>
<path d="M668.21 144.90V162.40" fill="none"/>
<rect x="667.11" y="145.80" width="2.20" height="6.30" fill="#fff" stroke-width="0.6"/>
<path d="M672.53 138.60V154.25" fill="none"/>
<rect x="671.13" y="146.00" width="2.8" height="7.60" fill="#1f5bb5" stroke="none"/>
<path d="M676.86 143.00V154.00" fill="none"/>
<rect x="675.76" y="150.20" width="2.20" height="3.10" fill="#fff" stroke-width="0.6"/>
<path d="M681.19 154.90V160.00" fill="none"/>
<rect x="679.79" y="156.75" width="2.8" height="3.15" fill="#1f5bb5" stroke="none"/>
<path d="M685.52 151.00V165.50" fill="none"/>
<rect x="684.42" y="153.30" width="2.20" height="3.80" fill="#fff" stroke-width="0.6"/>
<path d="M689.84 139.90V158.60" fill="none"/>
<rect x="688.74" y="147.05" width="2.20" height="6.25" fill="#fff" stroke-width="0.6"/>
<path d="M694.17 134.25V149.90" fill="none"/>
<rect x="692.77" y="145.75" width="2.8" height="3.50" fill="#1f5bb5" stroke="none"/>
<path d="M698.50 148.60V162.40" fill="none"/>
<rect x="697.10" y="149.25" width="2.8" height="8.75" fill="#1f5bb5" stroke="none"/>
<path d="M702.82 156.75V170.50" fill="none"/>
<rect x="701.42" y="157.40" width="2.8" height="10.00" fill="#1f5bb5" stroke="none"/>
<path d="M707.15 144.90V168.00" fill="none"/>
<rect x="706.05" y="148.30" width="2.20" height="18.80" fill="#fff" stroke-width="0.6"/>
<path d="M711.48 143.00V158.00" fill="none"/>
<rect x="710.08" y="148.00" width="2.8" height="4.40" fill="#1f5bb5" stroke="none"/>
<path d="M715.81 137.40V156.10" fill="none"/>
<rect x="714.71" y="139.55" width="2.20" height="10.05" fill="#fff" stroke-width="0.6"/>
<path d="M720.13 126.10V144.90" fill="none"/>
<rect x="719.03" y="127.70" width="2.20" height="11.30" fill="#fff" stroke-width="0.6"/>
<path d="M724.46 120.60V131.20" fill="none"/>
<rect x="723.36" y="123.10" width="2.20" height="4.10" fill="#fff" stroke-width="0.6"/>
<path d="M728.79 122.40V140.00" fill="none"/>
<rect x="727.39" y="123.00" width="2.8" height="12.00" fill="#1f5bb5" stroke="none"/>
<path d="M733.11 133.00V152.50" fill="none"/>
<rect x="731.71" y="135.00" width="2.8" height="15.00" fill="#1f5bb5" stroke="none"/>
<path d="M737.44 137.50V152.50" fill="none"/>
<rect x="736.34" y="138.40" width="2.20" height="11.30" fill="#fff" stroke-width="0.6"/>
<path d="M741.77 135.00V157.50" fill="none"/>
<rect x="740.37" y="138.10" width="2.8" height="8.15" fill="#1f5bb5" stroke="none"/>
<path d="M746.09 135.60V157.00" fill="none"/>
<rect x="744.99" y="137.80" width="2.20" height="7.50" fill="#fff" stroke-width="0.6"/>
<path d="M750.42 128.10V149.40" fill="none"/>
<rect x="749.32" y="133.40" width="2.20" height="3.20" fill="#fff" stroke-width="0.6"/>
<path d="M754.75 110.00V139.40" fill="none"/>
<rect x="753.65" y="112.20" width="2.20" height="20.60" fill="#fff" stroke-width="0.6"/>
<path d="M759.08 105.00V115.00" fill="none"/>
<rect x="757.98" y="106.55" width="2.20" height="5.65" fill="#fff" stroke-width="0.6"/>
<path d="M763.40 91.90V107.50" fill="none"/>
<rect x="762.30" y="104.05" width="2.20" height="2.55" fill="#fff" stroke-width="0.6"/>
<path d="M767.73 91.90V111.90" fill="none"/>
<rect x="766.33" y="103.75" width="2.8" height="6.25" fill="#1f5bb5" stroke="none"/>
<path d="M772.06 91.25V128.75" fill="none"/>
<rect x="770.66" y="109.40" width="2.8" height="11.85" fill="#1f5bb5" stroke="none"/>
<path d="M776.38 113.75V123.75M775.08 121.00H777.68" stroke="#8fd46a" fill="none"/>
<path d="M780.71 106.25V121.25" fill="none"/>
<rect x="779.61" y="107.20" width="2.20" height="13.10" fill="#fff" stroke-width="0.6"/>
<path d="M785.04 98.75V114.40" fill="none"/>
<rect x="783.94" y="104.05" width="2.20" height="6.90" fill="#fff" stroke-width="0.6"/>
<path d="M789.36 93.10V109.40" fill="none"/>
<rect x="788.26" y="98.40" width="2.20" height="5.70" fill="#fff" stroke-width="0.6"/>
<path d="M793.69 85.60V99.50" fill="none"/>
<rect x="792.59" y="91.55" width="2.20" height="7.15" fill="#fff" stroke-width="0.6"/>
<path d="M798.02 81.25V105.60" fill="none"/>
<rect x="796.62" y="91.25" width="2.8" height="11.25" fill="#1f5bb5" stroke="none"/>
<path d="M802.35 87.50V103.75" fill="none"/>
<rect x="801.25" y="89.05" width="2.20" height="13.75" fill="#fff" stroke-width="0.6"/>
<path d="M806.67 84.40V94.40" fill="none"/>
<rect x="805.57" y="85.90" width="2.20" height="3.20" fill="#fff" stroke-width="0.6"/>
<path d="M811.00 82.50V115.00" fill="none"/>
<rect x="809.60" y="85.60" width="2.8" height="20.65" fill="#1f5bb5" stroke="none"/>
<path d="M815.33 105.00V115.00" fill="none"/>
<rect x="814.23" y="106.55" width="2.20" height="7.55" fill="#fff" stroke-width="0.6"/>
<path d="M819.65 105.60V118.10" fill="none"/>
<rect x="818.25" y="106.25" width="2.8" height="8.75" fill="#1f5bb5" stroke="none"/>
<path d="M823.98 110.00V136.90" fill="none"/>
<rect x="822.58" y="115.00" width="2.8" height="13.75" fill="#1f5bb5" stroke="none"/>
<path d="M828.31 113.10V146.25" fill="none"/>
<rect x="827.21" y="123.40" width="2.20" height="5.70" fill="#fff" stroke-width="0.6"/>
<path d="M832.63 105.60V130.60" fill="none"/>
<path d="M831.23 123.75H834.03" fill="none"/>
<path d="M836.96 120.60V131.25" fill="none"/>
<rect x="835.56" y="121.90" width="2.8" height="3.10" fill="#1f5bb5" stroke="none"/>
<path d="M841.29 111.25V126.25" fill="none"/>
<rect x="840.19" y="116.55" width="2.20" height="8.75" fill="#fff" stroke-width="0.6"/>
<path d="M845.62 88.00V117.50" fill="none"/>
<rect x="844.51" y="89.05" width="2.20" height="27.55" fill="#fff" stroke-width="0.6"/>
<path d="M849.94 61.25V93.75" fill="none"/>
<rect x="848.84" y="65.90" width="2.20" height="23.20" fill="#fff" stroke-width="0.6"/>
<path d="M854.27 54.40V89.40" fill="none"/>
<rect x="852.87" y="66.25" width="2.8" height="20.65" fill="#1f5bb5" stroke="none"/>
<path d="M858.60 62.50V87.50" fill="none"/>
<rect x="857.50" y="74.70" width="2.20" height="11.90" fill="#fff" stroke-width="0.6"/>
<path d="M862.92 55.00V78.10" fill="none"/>
<rect x="861.82" y="57.20" width="2.20" height="17.50" fill="#fff" stroke-width="0.6"/>
<path d="M867.25 48.10V67.50" fill="none"/>
<rect x="865.85" y="56.90" width="2.8" height="3.10" fill="#1f5bb5" stroke="none"/>
<path d="M871.58 53.10V77.50" fill="none"/>
<rect x="870.18" y="60.60" width="2.8" height="9.40" fill="#1f5bb5" stroke="none"/>
<path d="M875.90 64.40V75.00" fill="none"/>
<path d="M874.50 68.60H877.30" fill="none"/>
<path d="M880.23 66.25V76.25" fill="none"/>
<rect x="878.83" y="68.10" width="2.8" height="7.50" fill="#1f5bb5" stroke="none"/>
<path d="M884.56 67.50V76.00" fill="none"/>
<rect x="883.46" y="71.55" width="2.20" height="3.75" fill="#fff" stroke-width="0.6"/>
<path d="M888.88 70.60V86.25" fill="none"/>
<rect x="887.78" y="75.30" width="2.20" height="3.15" fill="#fff" stroke-width="0.6"/>
<path d="M893.21 74.40V83.10" fill="none"/>
<rect x="891.81" y="75.25" width="2.8" height="4.15" fill="#1f5bb5" stroke="none"/>
<path d="M897.54 66.90V90.60" fill="none"/>
<rect x="896.14" y="79.40" width="2.8" height="4.35" fill="#1f5bb5" stroke="none"/>
<path d="M901.87 81.25V93.75" fill="none"/>
<rect x="900.77" y="82.20" width="2.20" height="1.90" fill="#fff" stroke-width="0.6"/>
<path d="M906.19 75.60V86.90" fill="none"/>
<rect x="905.09" y="76.55" width="2.20" height="3.15" fill="#fff" stroke-width="0.6"/>
<path d="M910.52 73.75V80.00" fill="none"/>
<rect x="909.12" y="76.90" width="2.8" height="1.85" fill="#1f5bb5" stroke="none"/>
<path d="M914.85 70.60V80.00" fill="none"/>
<rect x="913.75" y="71.55" width="2.20" height="6.25" fill="#fff" stroke-width="0.6"/>
<path d="M919.17 59.40V72.00" fill="none"/>
<rect x="918.07" y="60.30" width="2.20" height="11.00" fill="#fff" stroke-width="0.6"/>
<path d="M923.50 53.10V66.90" fill="none"/>
<rect x="922.10" y="60.00" width="2.8" height="4.00" fill="#1f5bb5" stroke="none"/>
<path d="M927.83 60.00V71.90" fill="none"/>
<rect x="926.43" y="63.75" width="2.8" height="3.75" fill="#1f5bb5" stroke="none"/>
<path d="M932.15 50.60V71.00" fill="none"/>
<rect x="931.05" y="57.20" width="2.20" height="10.00" fill="#fff" stroke-width="0.6"/>
<path d="M936.48 36.90V58.00" fill="none"/>
<rect x="935.38" y="39.05" width="2.20" height="18.15" fill="#fff" stroke-width="0.6"/>
<path d="M940.81 36.25V45.60" fill="none"/>
<rect x="939.41" y="39.40" width="2.8" height="3.10" fill="#1f5bb5" stroke="none"/>
<path d="M945.14 40.00V53.50" fill="none"/>
<rect x="943.74" y="41.90" width="2.8" height="11.20" fill="#1f5bb5" stroke="none"/>
<path d="M949.46 52.50V90.30" fill="none"/>
<rect x="948.06" y="53.10" width="2.8" height="34.10" fill="#1f5bb5" stroke="none"/>
<path d="M953.79 78.10V100.00" fill="none"/>
<rect x="952.69" y="79.05" width="2.20" height="7.85" fill="#fff" stroke-width="0.6"/>
<path d="M958.12 75.60V101.90" fill="none"/>
<rect x="956.72" y="79.40" width="2.8" height="17.50" fill="#1f5bb5" stroke="none"/>
<path d="M962.44 67.50V98.10" fill="none"/>
<rect x="961.34" y="72.20" width="2.20" height="24.40" fill="#fff" stroke-width="0.6"/>
<path d="M966.77 71.00V105.60" fill="none"/>
<rect x="965.37" y="71.60" width="2.8" height="24.65" fill="#1f5bb5" stroke="none"/>
<path d="M971.10 86.90V102.50" fill="none"/>
<rect x="970.00" y="89.05" width="2.20" height="7.55" fill="#fff" stroke-width="0.6"/>
<path d="M975.43 88.00V98.10" fill="none"/>
<rect x="974.03" y="89.40" width="2.8" height="4.35" fill="#1f5bb5" stroke="none"/>
<path d="M979.75 81.25V96.90" fill="none"/>
<rect x="978.65" y="82.20" width="2.20" height="11.90" fill="#fff" stroke-width="0.6"/>
<path d="M984.08 74.40V83.10" fill="none"/>
<rect x="982.98" y="76.55" width="2.20" height="5.65" fill="#fff" stroke-width="0.6"/>
<path d="M988.41 70.60V80.00" fill="none"/>
<path d="M987.01 78.75H989.81" fill="none"/>
</g>
<path d="M1.90 264.75C3.22 265.09 10.24 266.92 12.50 267.50C14.76 268.08 18.12 269.27 20.00 269.40C21.88 269.52 25.62 269.05 27.50 268.50C29.38 267.95 33.12 265.59 35.00 265.00C36.88 264.41 40.62 264.18 42.50 263.75C44.38 263.32 48.12 262.07 50.00 261.60C51.88 261.13 55.47 260.45 57.50 260.00C59.53 259.55 64.06 258.50 66.25 258.00C68.44 257.50 73.12 256.53 75.00 256.00C76.88 255.47 79.69 254.50 81.25 253.75C82.81 253.00 85.94 250.71 87.50 250.00C89.06 249.29 92.19 248.65 93.75 248.10C95.31 247.55 98.44 246.30 100.00 245.60C101.56 244.90 104.69 243.20 106.25 242.50C107.81 241.80 111.09 240.39 112.50 240.00C113.91 239.61 116.17 239.47 117.50 239.40C118.83 239.33 121.85 240.58 123.10 239.40C124.35 238.22 126.51 232.30 127.50 230.00C128.49 227.70 129.91 223.26 131.00 221.00C132.09 218.74 134.81 214.68 136.25 211.90C137.69 209.12 140.94 202.27 142.50 198.75C144.06 195.23 147.19 187.19 148.75 183.75C150.31 180.31 153.44 174.22 155.00 171.25C156.56 168.28 159.69 162.66 161.25 160.00C162.81 157.34 165.78 152.30 167.50 150.00C169.22 147.70 173.51 143.15 175.00 141.60C176.49 140.05 178.46 138.64 179.40 137.60C180.34 136.56 181.18 134.49 182.50 133.30C183.82 132.11 187.81 129.53 190.00 128.10C192.19 126.67 197.81 123.30 200.00 121.90C202.19 120.50 205.62 118.18 207.50 116.90C209.38 115.62 213.38 112.81 215.00 111.70C216.62 110.59 219.12 108.89 220.50 108.00C221.88 107.11 224.44 105.70 226.00 104.60C227.56 103.50 231.34 100.33 233.00 99.20C234.66 98.08 237.84 96.25 239.25 95.60C240.66 94.95 242.84 94.26 244.25 94.00C245.66 93.74 248.78 93.88 250.50 93.50C252.22 93.12 256.28 91.59 258.00 91.00C259.72 90.41 262.69 89.16 264.25 88.75C265.81 88.34 269.09 87.94 270.50 87.75C271.91 87.56 274.25 87.12 275.50 87.25C276.75 87.38 278.94 88.22 280.50 88.75C282.06 89.28 286.12 90.88 288.00 91.50C289.88 92.12 293.62 93.00 295.50 93.75C297.38 94.50 301.12 96.64 303.00 97.50C304.88 98.36 308.62 99.74 310.50 100.60C312.38 101.46 316.81 103.85 318.00 104.40C319.19 104.95 318.97 104.58 320.00 105.00C321.03 105.42 324.69 106.89 326.25 107.75C327.81 108.61 330.94 110.87 332.50 111.90C334.06 112.93 337.19 115.30 338.75 116.00C340.31 116.70 343.44 117.19 345.00 117.50C346.56 117.81 349.69 117.95 351.25 118.50C352.81 119.05 355.94 121.09 357.50 121.90C359.06 122.71 362.19 124.30 363.75 125.00C365.31 125.70 368.44 126.91 370.00 127.50C371.56 128.09 374.69 129.39 376.25 129.75C377.81 130.11 380.94 130.37 382.50 130.40C384.06 130.43 387.19 130.29 388.75 130.00C390.31 129.71 393.44 128.49 395.00 128.10C396.56 127.71 399.69 127.13 401.25 126.90C402.81 126.67 405.94 126.49 407.50 126.25C409.06 126.01 412.19 125.31 413.75 125.00C415.31 124.69 418.44 123.99 420.00 123.75C421.56 123.51 424.75 123.26 426.25 123.10C427.75 122.94 430.66 122.73 432.00 122.50C433.34 122.27 435.75 121.80 437.00 121.25C438.25 120.70 440.59 118.69 442.00 118.10C443.41 117.51 446.69 116.81 448.25 116.50C449.81 116.19 452.78 115.71 454.50 115.60C456.22 115.49 460.12 115.55 462.00 115.60C463.88 115.65 467.78 115.84 469.50 116.00C471.22 116.16 474.19 116.59 475.75 116.90C477.31 117.21 480.44 117.96 482.00 118.50C483.56 119.04 486.69 120.56 488.25 121.25C489.81 121.94 492.94 123.34 494.50 124.00C496.06 124.66 499.19 125.91 500.75 126.50C502.31 127.09 505.44 128.23 507.00 128.70C508.56 129.17 511.69 129.81 513.25 130.25C514.81 130.69 517.94 131.81 519.50 132.25C521.06 132.69 524.19 133.41 525.75 133.75C527.31 134.09 530.44 134.69 532.00 135.00C533.56 135.31 536.69 136.03 538.25 136.25C539.81 136.47 542.94 136.73 544.50 136.80C546.06 136.87 549.19 136.93 550.75 136.80C552.31 136.68 555.50 136.08 557.00 135.80C558.50 135.53 560.78 134.82 562.75 134.60C564.72 134.38 570.41 134.20 572.75 134.00C575.09 133.80 579.62 133.36 581.50 133.00C583.38 132.64 586.19 131.60 587.75 131.10C589.31 130.60 592.44 129.54 594.00 129.00C595.56 128.46 598.69 127.26 600.25 126.75C601.81 126.24 604.94 125.53 606.50 124.90C608.06 124.28 611.19 122.38 612.75 121.75C614.31 121.12 617.44 120.29 619.00 119.90C620.56 119.51 623.69 118.81 625.25 118.60C626.81 118.39 629.94 118.30 631.50 118.25C633.06 118.20 636.19 118.08 637.75 118.20C639.31 118.33 642.72 118.81 644.00 119.25C645.28 119.69 646.56 120.81 648.00 121.75C649.44 122.69 653.62 125.66 655.50 126.75C657.38 127.84 661.12 129.72 663.00 130.50C664.88 131.28 668.62 132.45 670.50 133.00C672.38 133.55 676.12 134.43 678.00 134.90C679.88 135.37 683.62 136.36 685.50 136.75C687.38 137.14 691.12 137.69 693.00 138.00C694.88 138.31 698.78 138.91 700.50 139.25C702.22 139.59 705.03 140.52 706.75 140.75C708.47 140.98 712.53 141.02 714.25 141.10C715.97 141.18 718.84 141.41 720.50 141.40C722.16 141.39 725.53 140.99 727.50 141.00C729.47 141.01 734.06 141.44 736.25 141.50C738.44 141.56 742.81 141.61 745.00 141.50C747.19 141.39 751.88 141.10 753.75 140.60C755.62 140.10 758.28 138.23 760.00 137.50C761.72 136.77 765.62 135.38 767.50 134.75C769.38 134.12 773.12 133.02 775.00 132.50C776.88 131.98 780.62 131.15 782.50 130.60C784.38 130.05 788.12 128.80 790.00 128.10C791.88 127.40 795.62 125.78 797.50 125.00C799.38 124.22 803.12 122.65 805.00 121.90C806.88 121.15 810.62 119.50 812.50 119.00C814.38 118.50 818.12 117.96 820.00 117.90C821.88 117.84 825.62 118.39 827.50 118.50C829.38 118.61 833.12 118.72 835.00 118.75C836.88 118.78 841.09 118.83 842.50 118.75C843.91 118.67 845.00 118.49 846.25 118.10C847.50 117.71 850.94 116.30 852.50 115.60C854.06 114.90 857.19 113.36 858.75 112.50C860.31 111.64 863.44 109.69 865.00 108.75C866.56 107.81 869.69 105.86 871.25 105.00C872.81 104.14 875.94 102.60 877.50 101.90C879.06 101.20 882.19 99.98 883.75 99.40C885.31 98.82 888.44 97.72 890.00 97.25C891.56 96.78 894.69 95.96 896.25 95.60C897.81 95.24 900.94 94.71 902.50 94.40C904.06 94.09 907.19 93.41 908.75 93.10C910.31 92.79 913.44 92.29 915.00 91.90C916.56 91.51 919.69 90.47 921.25 90.00C922.81 89.53 925.94 88.57 927.50 88.10C929.06 87.63 932.19 86.88 933.75 86.25C935.31 85.62 938.44 83.91 940.00 83.10C941.56 82.29 945.00 80.26 946.25 79.75C947.50 79.24 948.91 79.12 950.00 79.00C951.09 78.88 953.59 78.72 955.00 78.75C956.41 78.78 959.62 79.04 961.25 79.20C962.88 79.36 966.78 79.86 968.00 80.00C969.22 80.14 969.69 80.11 971.00 80.30C972.31 80.49 976.94 81.35 978.50 81.50C980.06 81.65 982.25 81.53 983.50 81.50C984.75 81.47 987.33 81.31 988.50 81.25C989.67 81.19 992.35 81.03 992.90 81.00" fill="none" stroke="#2f5596" stroke-width="1.12" stroke-linejoin="round"/>
<path d="M1.90 264.75C2.44 265.09 5.08 266.77 6.25 267.50C7.42 268.23 10.00 269.79 11.25 270.60C12.50 271.41 15.16 273.38 16.25 274.00C17.34 274.62 19.06 275.58 20.00 275.60C20.94 275.62 22.89 274.82 23.75 274.20C24.61 273.57 26.12 271.59 26.90 270.60C27.68 269.61 29.23 267.14 30.00 266.25C30.77 265.36 32.32 264.12 33.10 263.50C33.88 262.88 35.08 261.72 36.25 261.25C37.42 260.78 40.78 260.32 42.50 259.75C44.22 259.18 48.28 257.42 50.00 256.70C51.72 255.98 54.69 254.60 56.25 254.00C57.81 253.40 60.94 252.40 62.50 251.90C64.06 251.40 67.19 250.43 68.75 250.00C70.31 249.57 73.44 249.36 75.00 248.50C76.56 247.64 79.69 244.55 81.25 243.10C82.81 241.65 86.09 238.15 87.50 236.90C88.91 235.65 91.41 233.72 92.50 233.10C93.59 232.47 95.00 232.68 96.25 231.90C97.50 231.12 100.94 227.92 102.50 226.90C104.06 225.88 107.25 224.30 108.75 223.75C110.25 223.20 113.25 222.34 114.50 222.50C115.75 222.66 117.67 224.38 118.75 225.00C119.83 225.62 122.16 229.14 123.10 227.50C124.04 225.86 125.39 215.81 126.25 211.90C127.11 207.99 129.06 200.39 130.00 196.25C130.94 192.11 132.81 182.81 133.75 178.75C134.69 174.69 136.56 167.34 137.50 163.75C138.44 160.16 140.31 153.59 141.25 150.00C142.19 146.41 144.09 138.51 145.00 135.00C145.91 131.49 147.59 125.03 148.50 121.90C149.41 118.78 151.31 112.89 152.25 110.00C153.19 107.11 154.91 101.41 156.00 98.75C157.09 96.09 159.75 90.78 161.00 88.75C162.25 86.72 164.75 83.98 166.00 82.50C167.25 81.02 169.75 78.08 171.00 76.90C172.25 75.73 174.44 73.81 176.00 73.10C177.56 72.39 182.01 71.48 183.50 71.25C184.99 71.02 186.81 71.09 187.90 71.25C188.99 71.41 190.93 72.22 192.25 72.50C193.57 72.78 196.94 73.26 198.50 73.50C200.06 73.74 203.34 74.40 204.75 74.40C206.16 74.40 208.56 73.97 209.75 73.50C210.94 73.03 212.91 71.11 214.25 70.60C215.59 70.09 218.94 69.79 220.50 69.40C222.06 69.01 225.19 68.29 226.75 67.50C228.31 66.71 231.67 63.80 233.00 63.10C234.33 62.40 236.31 61.94 237.40 61.90C238.49 61.86 240.58 62.29 241.75 62.75C242.92 63.21 245.50 65.01 246.75 65.60C248.00 66.19 250.34 67.26 251.75 67.50C253.16 67.74 256.44 67.58 258.00 67.50C259.56 67.42 262.69 66.83 264.25 66.90C265.81 66.98 269.17 67.87 270.50 68.10C271.83 68.33 273.81 67.89 274.90 68.75C275.99 69.61 278.24 73.59 279.25 75.00C280.26 76.41 281.75 78.59 283.00 80.00C284.25 81.41 287.69 84.69 289.25 86.25C290.81 87.81 294.09 91.02 295.50 92.50C296.91 93.98 299.25 96.77 300.50 98.10C301.75 99.42 304.25 101.92 305.50 103.10C306.75 104.27 309.25 106.29 310.50 107.50C311.75 108.71 314.25 111.50 315.50 112.75C316.75 114.00 319.16 116.36 320.50 117.50C321.84 118.64 324.91 120.93 326.25 121.90C327.59 122.88 330.22 124.13 331.25 125.30C332.28 126.47 333.47 129.91 334.50 131.25C335.53 132.59 338.09 135.46 339.50 136.00C340.91 136.54 344.34 135.88 345.75 135.60C347.16 135.32 349.34 133.44 350.75 133.75C352.16 134.06 355.44 137.01 357.00 138.10C358.56 139.19 361.69 141.56 363.25 142.50C364.81 143.44 368.09 144.90 369.50 145.60C370.91 146.30 373.41 147.71 374.50 148.10C375.59 148.49 377.31 148.90 378.25 148.75C379.19 148.60 380.91 147.44 382.00 146.90C383.09 146.36 385.75 145.34 387.00 144.40C388.25 143.46 390.75 140.79 392.00 139.40C393.25 138.01 395.38 134.55 397.00 133.30C398.62 132.05 403.06 130.28 405.00 129.40C406.94 128.52 410.62 127.04 412.50 126.25C414.38 125.46 418.28 123.72 420.00 123.10C421.72 122.47 424.69 121.64 426.25 121.25C427.81 120.86 431.12 120.91 432.50 120.00C433.88 119.09 436.09 115.38 437.30 114.00C438.51 112.62 440.99 109.67 442.20 109.00C443.41 108.33 445.77 108.91 447.00 108.60C448.23 108.29 450.75 106.51 452.00 106.50C453.25 106.49 455.75 107.94 457.00 108.50C458.25 109.06 460.44 110.62 462.00 111.00C463.56 111.38 467.78 111.08 469.50 111.50C471.22 111.92 474.19 113.62 475.75 114.40C477.31 115.18 480.59 116.66 482.00 117.75C483.41 118.84 485.75 121.81 487.00 123.10C488.25 124.39 490.75 126.92 492.00 128.10C493.25 129.28 495.75 131.54 497.00 132.50C498.25 133.46 500.69 135.14 502.00 135.80C503.31 136.46 506.00 137.15 507.50 137.80C509.00 138.45 512.41 140.26 514.00 141.00C515.59 141.74 518.69 143.12 520.25 143.75C521.81 144.38 524.94 145.66 526.50 146.00C528.06 146.34 531.19 146.34 532.75 146.50C534.31 146.66 537.36 147.12 539.00 147.25C540.64 147.38 544.34 147.94 545.90 147.50C547.46 147.06 550.02 144.72 551.50 143.75C552.98 142.78 556.19 140.69 557.75 139.75C559.31 138.81 562.44 136.84 564.00 136.25C565.56 135.66 568.69 135.28 570.25 135.00C571.81 134.72 575.03 134.28 576.50 134.00C577.97 133.72 580.59 133.48 582.00 132.80C583.41 132.12 586.25 129.67 587.75 128.60C589.25 127.53 592.44 125.26 594.00 124.25C595.56 123.24 598.69 121.52 600.25 120.50C601.81 119.48 604.94 117.35 606.50 116.10C608.06 114.85 611.19 111.59 612.75 110.50C614.31 109.41 617.59 107.90 619.00 107.40C620.41 106.90 622.59 106.50 624.00 106.50C625.41 106.50 628.84 106.98 630.25 107.40C631.66 107.83 633.84 109.28 635.25 109.90C636.66 110.53 640.09 111.39 641.50 112.40C642.91 113.41 645.38 116.52 646.50 118.00C647.62 119.48 649.38 122.38 650.50 124.25C651.62 126.12 654.25 131.21 655.50 133.00C656.75 134.79 659.25 137.47 660.50 138.60C661.75 139.72 663.94 141.38 665.50 142.00C667.06 142.62 671.28 143.24 673.00 143.60C674.72 143.96 677.69 144.43 679.25 144.90C680.81 145.38 683.78 147.01 685.50 147.40C687.22 147.79 691.28 147.85 693.00 148.00C694.72 148.15 697.69 148.26 699.25 148.60C700.81 148.94 703.94 150.44 705.50 150.75C707.06 151.06 710.19 151.16 711.75 151.10C713.31 151.04 716.59 150.71 718.00 150.25C719.41 149.79 721.75 148.23 723.00 147.40C724.25 146.57 726.75 144.22 728.00 143.60C729.25 142.97 731.50 142.57 733.00 142.40C734.50 142.23 738.50 142.27 740.00 142.25C741.50 142.23 743.28 142.38 745.00 142.25C746.72 142.12 752.19 141.84 753.75 141.25C755.31 140.66 756.41 138.59 757.50 137.50C758.59 136.41 761.25 133.68 762.50 132.50C763.75 131.32 766.25 129.04 767.50 128.10C768.75 127.16 770.94 125.54 772.50 125.00C774.06 124.46 778.28 124.38 780.00 123.75C781.72 123.12 784.69 120.94 786.25 120.00C787.81 119.06 790.94 117.26 792.50 116.25C794.06 115.24 797.19 112.92 798.75 111.90C800.31 110.88 803.44 108.96 805.00 108.10C806.56 107.24 809.69 105.36 811.25 105.00C812.81 104.64 816.09 105.09 817.50 105.25C818.91 105.41 821.25 105.81 822.50 106.25C823.75 106.69 826.25 108.12 827.50 108.75C828.75 109.38 831.09 110.62 832.50 111.25C833.91 111.88 837.34 113.25 838.75 113.75C840.16 114.25 842.81 115.17 843.75 115.25C844.69 115.33 845.47 115.06 846.25 114.40C847.03 113.74 848.91 111.25 850.00 110.00C851.09 108.75 853.59 105.65 855.00 104.40C856.41 103.15 859.84 101.33 861.25 100.00C862.66 98.67 865.00 95.24 866.25 93.75C867.50 92.26 869.84 89.35 871.25 88.10C872.66 86.85 875.94 84.53 877.50 83.75C879.06 82.97 882.19 82.37 883.75 81.90C885.31 81.43 888.44 80.24 890.00 80.00C891.56 79.76 894.69 80.03 896.25 80.00C897.81 79.97 900.78 79.83 902.50 79.75C904.22 79.67 908.12 79.53 910.00 79.40C911.88 79.28 915.94 79.06 917.50 78.75C919.06 78.44 921.25 77.44 922.50 76.90C923.75 76.36 926.25 74.95 927.50 74.40C928.75 73.85 931.25 73.21 932.50 72.50C933.75 71.79 936.25 69.69 937.50 68.75C938.75 67.81 941.25 65.86 942.50 65.00C943.75 64.14 946.56 62.29 947.50 61.90C948.44 61.51 949.41 61.67 950.00 61.90C950.59 62.13 951.19 62.98 952.25 63.75C953.31 64.53 957.09 67.13 958.50 68.10C959.91 69.07 962.25 70.95 963.50 71.50C964.75 72.05 967.25 71.91 968.50 72.50C969.75 73.09 972.25 75.44 973.50 76.25C974.75 77.06 977.25 78.61 978.50 79.00C979.75 79.39 982.25 79.40 983.50 79.40C984.75 79.40 987.33 79.05 988.50 79.00C989.67 78.95 992.35 79.00 992.90 79.00" fill="none" stroke="#de3040" stroke-width="1.12" stroke-linejoin="round"/>
<line x1="1.5" y1="361.4" x2="1012" y2="361.4" stroke="#cc4456" stroke-width="0.9"/>
<polyline points="2.10,371.50 6.90,377.40 15.10,384.80 18.90,370.20 23.20,353.00 27.50,344.40 31.80,344.70 36.60,355.00 40.90,355.50 45.00,350.40 49.80,351.25 57.60,355.00 62.70,351.60 67.00,352.60 71.30,352.60 75.60,345.20 79.90,340.90 84.20,338.70 88.50,338.90 92.80,345.20 97.10,340.10 101.40,336.60 105.70,338.40 110.00,347.80 114.80,359.00 118.60,365.00 122.90,332.30 127.20,323.40 131.50,322.90 136.60,320.30 140.90,319.50 147.80,318.25 153.80,321.70 157.30,321.70 161.60,332.70 165.90,331.50 170.20,332.30 174.50,338.40 176.00,338.70 179.40,338.70 183.70,342.30 188.00,348.70 192.30,346.60 196.60,347.00 201.40,351.25 205.20,348.70 209.90,343.00 214.20,342.10 218.50,344.00 222.40,344.00 227.00,341.50 231.00,343.00 235.30,342.30 239.60,353.00 243.90,359.00 248.20,361.20 253.00,355.50 256.80,353.80 261.40,350.40 265.90,359.80 270.00,358.60 274.30,369.30 278.60,377.90 282.90,376.20 287.40,374.50 292.00,379.10 295.80,380.10 300.10,381.30 304.60,378.40 309.20,382.20 313.50,385.30 317.80,382.50 322.10,382.20 326.70,381.80 330.70,392.80 335.00,382.20 339.30,375.30 344.10,363.30 347.90,365.30 352.00,373.20 356.30,376.20 360.90,373.60 364.90,374.50 369.50,377.40 373.80,374.50 378.10,362.40 382.40,360.20 387.20,353.80 391.50,349.20 395.80,350.90 400.10,355.50 408.70,355.50 413.00,353.30 417.30,352.10 421.60,352.10 426.25,358.60 430.20,354.70 434.50,340.60 438.80,339.20 443.10,357.60 447.40,356.40 452.00,358.60 456.30,365.00 460.60,365.00 464.90,360.70 469.20,364.10 473.50,369.30 478.00,369.80 482.30,375.30 486.60,378.20 495.50,378.20 499.00,373.60 507.50,373.60 512.70,375.30 516.10,375.70 521.30,377.90 524.70,373.25 528.00,372.20 534.00,369.30 538.30,371.00 542.60,365.90 546.90,354.70 552.10,349.50 556.40,349.90 560.70,351.80 565.00,354.20 569.25,355.00 573.50,356.40 577.50,361.90 582.10,347.00 586.40,343.50 590.70,342.70 595.00,339.60 603.60,339.20 607.90,333.50 612.20,333.50 616.50,340.10 620.80,345.20 625.10,351.25 629.40,365.00 633.70,364.70 638.00,370.20 642.30,379.60 646.60,389.10 650.60,394.20 655.20,385.60 659.50,378.75 663.80,373.60 668.10,371.00 672.40,369.30 676.70,369.00 681.00,374.50 685.30,373.90 689.60,366.70 693.90,364.70 698.20,371.00 702.50,375.30 704.00,374.50 707.40,367.60 711.70,365.00 716.00,360.70 720.30,353.80 724.60,350.40 729.40,355.50 733.60,363.30 737.50,361.60 741.80,364.70 746.10,362.40 750.00,359.00 754.70,349.50 759.00,343.50 763.30,340.40 766.70,341.80 771.90,350.40 776.20,353.30 780.50,349.90 784.80,346.40 789.10,343.50 793.40,340.40 798.00,344.40 802.30,342.70 806.80,340.90 811.10,351.25 815.40,356.40 820.00,359.80 824.00,367.20 828.60,368.40 832.60,363.30 837.20,366.40 841.50,360.70 845.50,350.90 849.80,340.40 854.00,341.80 858.30,341.80 862.60,337.50 867.25,335.80 871.70,342.10 875.80,343.90 880.30,346.40 884.40,346.40 888.90,351.25 893.00,352.10 897.50,354.20 901.80,356.40 906.10,353.80 910.40,352.10 914.70,350.00 919.00,343.00 923.30,341.80 927.60,346.60 931.90,342.70 936.50,335.30 940.80,334.40 945.50,341.80 949.40,363.60 953.70,367.60 958.00,370.50 962.30,363.30 966.90,369.30 970.90,370.20 975.50,370.20 979.80,366.70 984.10,361.20 988.40,358.60" fill="none" stroke="#2e5290" stroke-width="1.22" stroke-linejoin="round"/>
<line x1="1.5" y1="455.79999999999995" x2="1012" y2="455.79999999999995" stroke="#e25a6e" stroke-width="0.75"/>
<g fill="#2458ae">
<rect x="1.07" y="455.90" width="1.56" height="10.35"/>
<rect x="5.40" y="455.90" width="1.56" height="10.70"/>
<rect x="9.72" y="455.90" width="1.56" height="11.30"/>
<rect x="14.05" y="455.90" width="1.56" height="11.85"/>
<rect x="18.38" y="455.90" width="1.56" height="10.00"/>
<rect x="22.70" y="455.90" width="1.56" height="5.10"/>
<rect x="31.36" y="451.25" width="1.56" height="4.65"/>
<rect x="35.69" y="449.75" width="1.56" height="6.15"/>
<rect x="40.01" y="449.00" width="1.56" height="6.90"/>
<rect x="44.34" y="447.50" width="1.56" height="8.40"/>
<rect x="48.67" y="446.60" width="1.56" height="9.30"/>
<rect x="52.99" y="446.60" width="1.56" height="9.30"/>
<rect x="57.32" y="447.50" width="1.56" height="8.40"/>
<rect x="61.65" y="447.50" width="1.56" height="8.40"/>
<rect x="65.97" y="449.00" width="1.56" height="6.90"/>
<rect x="70.30" y="449.90" width="1.56" height="6.00"/>
<rect x="74.63" y="449.60" width="1.56" height="6.30"/>
<rect x="78.96" y="449.00" width="1.56" height="6.90"/>
<rect x="83.28" y="447.50" width="1.56" height="8.40"/>
<rect x="87.61" y="447.10" width="1.56" height="8.80"/>
<rect x="91.94" y="447.50" width="1.56" height="8.40"/>
<rect x="96.26" y="447.10" width="1.56" height="8.80"/>
<rect x="100.59" y="446.60" width="1.56" height="9.30"/>
<rect x="104.92" y="446.60" width="1.56" height="9.30"/>
<rect x="109.24" y="448.10" width="1.56" height="7.80"/>
<rect x="113.57" y="451.60" width="1.56" height="4.30"/>
<rect x="122.23" y="447.50" width="1.56" height="8.40"/>
<rect x="126.55" y="434.40" width="1.56" height="21.50"/>
<rect x="130.88" y="424.10" width="1.56" height="31.80"/>
<rect x="135.21" y="416.00" width="1.56" height="39.90"/>
<rect x="139.53" y="409.10" width="1.56" height="46.80"/>
<rect x="143.86" y="405.90" width="1.56" height="50.00"/>
<rect x="148.19" y="404.00" width="1.56" height="51.90"/>
<rect x="152.51" y="405.90" width="1.56" height="50.00"/>
<rect x="156.84" y="409.10" width="1.56" height="46.80"/>
<rect x="161.17" y="417.10" width="1.56" height="38.80"/>
<rect x="165.50" y="424.10" width="1.56" height="31.80"/>
<rect x="169.82" y="432.10" width="1.56" height="23.80"/>
<rect x="174.15" y="442.25" width="1.56" height="13.65"/>
<rect x="178.48" y="451.25" width="1.56" height="4.65"/>
<rect x="182.80" y="455.90" width="1.56" height="3.80"/>
<rect x="187.13" y="455.90" width="1.56" height="11.85"/>
<rect x="191.46" y="455.90" width="1.56" height="16.90"/>
<rect x="195.78" y="455.90" width="1.56" height="21.60"/>
<rect x="200.11" y="455.90" width="1.56" height="25.00"/>
<rect x="204.44" y="455.90" width="1.56" height="26.30"/>
<rect x="208.77" y="455.90" width="1.56" height="25.00"/>
<rect x="213.09" y="455.90" width="1.56" height="23.10"/>
<rect x="217.42" y="455.90" width="1.56" height="21.20"/>
<rect x="221.75" y="455.90" width="1.56" height="19.35"/>
<rect x="226.07" y="455.90" width="1.56" height="16.90"/>
<rect x="230.40" y="455.90" width="1.56" height="15.60"/>
<rect x="234.73" y="455.90" width="1.56" height="14.10"/>
<rect x="239.05" y="455.90" width="1.56" height="15.00"/>
<rect x="243.38" y="455.90" width="1.56" height="16.35"/>
<rect x="247.71" y="455.90" width="1.56" height="17.85"/>
<rect x="252.04" y="455.90" width="1.56" height="17.50"/>
<rect x="256.36" y="455.90" width="1.56" height="16.35"/>
<rect x="260.69" y="455.90" width="1.56" height="15.60"/>
<rect x="265.02" y="455.90" width="1.56" height="15.00"/>
<rect x="269.34" y="455.90" width="1.56" height="16.00"/>
<rect x="273.67" y="455.90" width="1.56" height="17.85"/>
<rect x="278.00" y="455.90" width="1.56" height="21.60"/>
<rect x="282.33" y="455.90" width="1.56" height="23.10"/>
<rect x="286.65" y="455.90" width="1.56" height="23.85"/>
<rect x="290.98" y="455.90" width="1.56" height="24.40"/>
<rect x="295.31" y="455.90" width="1.56" height="25.35"/>
<rect x="299.63" y="455.90" width="1.56" height="25.35"/>
<rect x="303.96" y="455.90" width="1.56" height="24.40"/>
<rect x="308.29" y="455.90" width="1.56" height="23.85"/>
<rect x="312.61" y="455.90" width="1.56" height="23.50"/>
<rect x="316.94" y="455.90" width="1.56" height="22.50"/>
<rect x="321.27" y="455.90" width="1.56" height="20.70"/>
<rect x="325.60" y="455.90" width="1.56" height="18.80"/>
<rect x="329.92" y="455.90" width="1.56" height="19.35"/>
<rect x="334.25" y="455.90" width="1.56" height="17.85"/>
<rect x="338.58" y="455.90" width="1.56" height="14.50"/>
<rect x="342.90" y="455.90" width="1.56" height="9.40"/>
<rect x="347.23" y="455.90" width="1.56" height="5.10"/>
<rect x="351.56" y="455.90" width="1.56" height="4.35"/>
<rect x="355.88" y="455.90" width="1.56" height="3.80"/>
<rect x="360.21" y="455.90" width="1.56" height="2.85"/>
<rect x="364.54" y="455.90" width="1.56" height="2.50"/>
<rect x="368.87" y="455.90" width="1.56" height="2.85"/>
<rect x="373.19" y="455.90" width="1.56" height="1.90"/>
<rect x="377.52" y="454.60" width="1.56" height="1.30"/>
<rect x="381.85" y="451.25" width="1.56" height="4.65"/>
<rect x="386.17" y="447.10" width="1.56" height="8.80"/>
<rect x="390.50" y="442.80" width="1.56" height="13.10"/>
<rect x="394.83" y="440.00" width="1.56" height="15.90"/>
<rect x="399.15" y="439.40" width="1.56" height="16.50"/>
<rect x="403.48" y="439.10" width="1.56" height="16.80"/>
<rect x="407.81" y="439.40" width="1.56" height="16.50"/>
<rect x="412.14" y="440.00" width="1.56" height="15.90"/>
<rect x="416.46" y="440.40" width="1.56" height="15.50"/>
<rect x="420.79" y="441.30" width="1.56" height="14.60"/>
<rect x="425.12" y="444.10" width="1.56" height="11.80"/>
<rect x="429.44" y="446.00" width="1.56" height="9.90"/>
<rect x="433.77" y="443.40" width="1.56" height="12.50"/>
<rect x="438.10" y="440.90" width="1.56" height="15.00"/>
<rect x="442.42" y="444.70" width="1.56" height="11.20"/>
<rect x="446.75" y="446.60" width="1.56" height="9.30"/>
<rect x="451.08" y="449.40" width="1.56" height="6.50"/>
<rect x="455.41" y="453.50" width="1.56" height="2.40"/>
<rect x="464.06" y="455.90" width="1.56" height="1.90"/>
<rect x="468.39" y="455.90" width="1.56" height="2.85"/>
<rect x="472.71" y="455.90" width="1.56" height="5.10"/>
<rect x="477.04" y="455.90" width="1.56" height="7.50"/>
<rect x="481.37" y="455.90" width="1.56" height="11.30"/>
<rect x="485.69" y="455.90" width="1.56" height="14.50"/>
<rect x="490.02" y="455.90" width="1.56" height="16.00"/>
<rect x="494.35" y="455.90" width="1.56" height="16.00"/>
<rect x="498.68" y="455.90" width="1.56" height="15.00"/>
<rect x="503.00" y="455.90" width="1.56" height="14.10"/>
<rect x="507.33" y="455.90" width="1.56" height="11.85"/>
<rect x="511.66" y="455.90" width="1.56" height="10.70"/>
<rect x="515.98" y="455.90" width="1.56" height="9.40"/>
<rect x="520.31" y="455.90" width="1.56" height="8.10"/>
<rect x="524.64" y="455.90" width="1.56" height="6.20"/>
<rect x="528.96" y="455.90" width="1.56" height="4.70"/>
<rect x="533.29" y="455.90" width="1.56" height="2.85"/>
<rect x="537.62" y="455.90" width="1.56" height="1.00"/>
<rect x="541.95" y="455.40" width="1.56" height="0.50"/>
<rect x="546.27" y="452.20" width="1.56" height="3.70"/>
<rect x="550.60" y="449.40" width="1.56" height="6.50"/>
<rect x="554.93" y="446.60" width="1.56" height="9.30"/>
<rect x="559.25" y="445.25" width="1.56" height="10.65"/>
<rect x="563.58" y="445.00" width="1.56" height="10.90"/>
<rect x="567.91" y="445.25" width="1.56" height="10.65"/>
<rect x="572.23" y="445.60" width="1.56" height="10.30"/>
<rect x="576.56" y="447.10" width="1.56" height="8.80"/>
<rect x="580.89" y="446.60" width="1.56" height="9.30"/>
<rect x="585.22" y="445.25" width="1.56" height="10.65"/>
<rect x="589.54" y="444.70" width="1.56" height="11.20"/>
<rect x="593.87" y="444.30" width="1.56" height="11.60"/>
<rect x="598.20" y="444.30" width="1.56" height="11.60"/>
<rect x="602.52" y="444.70" width="1.56" height="11.20"/>
<rect x="606.85" y="444.10" width="1.56" height="11.80"/>
<rect x="611.18" y="444.10" width="1.56" height="11.80"/>
<rect x="615.50" y="444.70" width="1.56" height="11.20"/>
<rect x="619.83" y="446.60" width="1.56" height="9.30"/>
<rect x="624.16" y="449.00" width="1.56" height="6.90"/>
<rect x="628.49" y="453.50" width="1.56" height="2.40"/>
<rect x="637.14" y="455.90" width="1.56" height="3.80"/>
<rect x="641.47" y="455.90" width="1.56" height="7.50"/>
<rect x="645.79" y="455.90" width="1.56" height="14.10"/>
<rect x="650.12" y="455.90" width="1.56" height="19.70"/>
<rect x="654.45" y="455.90" width="1.56" height="22.50"/>
<rect x="658.77" y="455.90" width="1.56" height="22.00"/>
<rect x="663.10" y="455.90" width="1.56" height="20.70"/>
<rect x="667.43" y="455.90" width="1.56" height="17.85"/>
<rect x="671.75" y="455.90" width="1.56" height="15.00"/>
<rect x="676.08" y="455.90" width="1.56" height="12.60"/>
<rect x="680.41" y="455.90" width="1.56" height="10.00"/>
<rect x="684.74" y="455.90" width="1.56" height="7.50"/>
<rect x="689.06" y="455.90" width="1.56" height="4.70"/>
<rect x="693.39" y="455.90" width="1.56" height="1.50"/>
<rect x="706.37" y="455.50" width="1.56" height="0.40"/>
<rect x="710.70" y="454.60" width="1.56" height="1.30"/>
<rect x="715.03" y="452.75" width="1.56" height="3.15"/>
<rect x="719.35" y="450.30" width="1.56" height="5.60"/>
<rect x="723.68" y="447.90" width="1.56" height="8.00"/>
<rect x="728.01" y="446.60" width="1.56" height="9.30"/>
<rect x="732.33" y="447.50" width="1.56" height="8.40"/>
<rect x="736.66" y="448.40" width="1.56" height="7.50"/>
<rect x="740.99" y="449.40" width="1.56" height="6.50"/>
<rect x="745.31" y="450.30" width="1.56" height="5.60"/>
<rect x="749.64" y="449.90" width="1.56" height="6.00"/>
<rect x="753.97" y="448.40" width="1.56" height="7.50"/>
<rect x="758.30" y="446.00" width="1.56" height="9.90"/>
<rect x="762.62" y="444.10" width="1.56" height="11.80"/>
<rect x="766.95" y="443.40" width="1.56" height="12.50"/>
<rect x="771.28" y="444.10" width="1.56" height="11.80"/>
<rect x="775.60" y="445.60" width="1.56" height="10.30"/>
<rect x="779.93" y="446.00" width="1.56" height="9.90"/>
<rect x="784.26" y="446.00" width="1.56" height="9.90"/>
<rect x="788.58" y="445.25" width="1.56" height="10.65"/>
<rect x="792.91" y="445.00" width="1.56" height="10.90"/>
<rect x="797.24" y="446.00" width="1.56" height="9.90"/>
<rect x="801.57" y="446.60" width="1.56" height="9.30"/>
<rect x="805.89" y="447.10" width="1.56" height="8.80"/>
<rect x="810.22" y="449.40" width="1.56" height="6.50"/>
<rect x="814.55" y="452.75" width="1.56" height="3.15"/>
<rect x="823.20" y="455.90" width="1.56" height="2.50"/>
<rect x="827.53" y="455.90" width="1.56" height="5.70"/>
<rect x="831.85" y="455.90" width="1.56" height="7.50"/>
<rect x="836.18" y="455.90" width="1.56" height="9.00"/>
<rect x="840.51" y="455.90" width="1.56" height="8.85"/>
<rect x="844.84" y="455.90" width="1.56" height="6.60"/>
<rect x="849.16" y="455.90" width="1.56" height="1.90"/>
<rect x="853.49" y="454.60" width="1.56" height="1.30"/>
<rect x="857.82" y="451.60" width="1.56" height="4.30"/>
<rect x="862.14" y="448.40" width="1.56" height="7.50"/>
<rect x="866.47" y="445.25" width="1.56" height="10.65"/>
<rect x="870.80" y="444.30" width="1.56" height="11.60"/>
<rect x="875.12" y="444.30" width="1.56" height="11.60"/>
<rect x="879.45" y="445.25" width="1.56" height="10.65"/>
<rect x="883.78" y="447.10" width="1.56" height="8.80"/>
<rect x="888.11" y="449.40" width="1.56" height="6.50"/>
<rect x="892.43" y="452.20" width="1.56" height="3.70"/>
<rect x="896.76" y="455.00" width="1.56" height="0.90"/>
<rect x="901.09" y="455.90" width="1.56" height="1.90"/>
<rect x="905.41" y="455.90" width="1.56" height="3.40"/>
<rect x="909.74" y="455.90" width="1.56" height="4.70"/>
<rect x="914.07" y="455.90" width="1.56" height="4.70"/>
<rect x="918.39" y="455.90" width="1.56" height="3.80"/>
<rect x="922.72" y="455.90" width="1.56" height="2.85"/>
<rect x="927.05" y="455.90" width="1.56" height="1.90"/>
<rect x="931.38" y="455.90" width="1.56" height="1.00"/>
<rect x="935.70" y="454.60" width="1.56" height="1.30"/>
<rect x="940.03" y="452.20" width="1.56" height="3.70"/>
<rect x="944.36" y="451.25" width="1.56" height="4.65"/>
<rect x="948.68" y="454.60" width="1.56" height="1.30"/>
<rect x="953.01" y="455.90" width="1.56" height="2.70"/>
<rect x="957.34" y="455.90" width="1.56" height="6.80"/>
<rect x="961.66" y="455.90" width="1.56" height="7.80"/>
<rect x="965.99" y="455.90" width="1.56" height="10.90"/>
<rect x="970.32" y="455.90" width="1.56" height="11.90"/>
<rect x="974.65" y="455.90" width="1.56" height="13.35"/>
<rect x="978.97" y="455.90" width="1.56" height="12.90"/>
<rect x="983.30" y="455.90" width="1.56" height="11.30"/>
<rect x="987.63" y="455.90" width="1.56" height="9.90"/>
</g>
<g stroke="#858585" fill="none">
<path d="M1.5 3.6H1012.3" stroke-width="1"/>
<path d="M1011.8 3.2V486" stroke-width="1.2"/>
<path d="M1.4 3.6V486" stroke="#dadada" stroke-width="0.8"/>
<path d="M1.5 486.2H1012.3" stroke-width="1.3" stroke="#a4a4a4"/>
<path d="M1.8 313.25H1012" stroke="#666" stroke-width="1.65"/>
<path d="M1.8 398.85H1012" stroke="#666" stroke-width="1.65"/>
<path d="M36.60 485.7V487.1M71.22 485.7V487.1M105.84 485.7V487.1M140.46 485.7V487.1M175.08 485.7V487.1M209.70 485.7V487.1M244.32 485.7V487.1M278.94 485.7V487.1M313.56 485.7V487.1M348.18 485.7V487.1M382.80 485.7V487.1M417.42 485.7V487.1M452.04 485.7V487.1M486.66 485.7V487.1M521.28 485.7V487.1M555.90 485.7V487.1M590.52 485.7V487.1M625.14 485.7V487.1M659.76 485.7V487.1M694.38 485.7V487.1M729.00 485.7V487.1M763.62 485.7V487.1M798.24 485.7V487.1M832.86 485.7V487.1M867.48 485.7V487.1M902.10 485.7V487.1M936.72 485.7V487.1M971.34 485.7V487.1" stroke="#4a4a4a" stroke-width="1"/>
<path d="M1012 6.30H1014M1012 24.50H1014M1012 42.70H1014M1012 60.90H1014M1012 79.10H1014M1012 97.30H1014M1012 115.50H1014M1012 133.70H1014M1012 151.90H1014M1012 170.10H1014M1012 188.30H1014M1012 206.50H1014M1012 224.70H1014M1012 242.90H1014M1012 261.10H1014M1012 279.30H1014M1012 297.50H1014" stroke="#d0d0d0" stroke-width="0.6"/>
</g>
<filter id="tb" x="-5%" y="-50%" width="110%" height="200%"><feGaussianBlur stdDeviation="0.22"/></filter><g filter="url(#tb)">
<path d="M3.5 6.9H6.7L5.1 9.3Z" fill="#111"/>
<text class="t" x="10" y="9.9" xml:space="preserve">USDJPY,H1  150.494 150.544 150.463 150.496</text>
<text class="m" x="7.4" y="22.1" xml:space="preserve">0 MIN 40 Sec</text>
<text class="m" x="7.4" y="31.8" xml:space="preserve">4.5 pips</text>
<text class="s" x="4.2" y="320.8">RSI(14) 52.2187</text>
<text class="s" x="4.3" y="406.9">OsMA(13,34,13) -0.04517</text>
</g>
</svg></body></html>
